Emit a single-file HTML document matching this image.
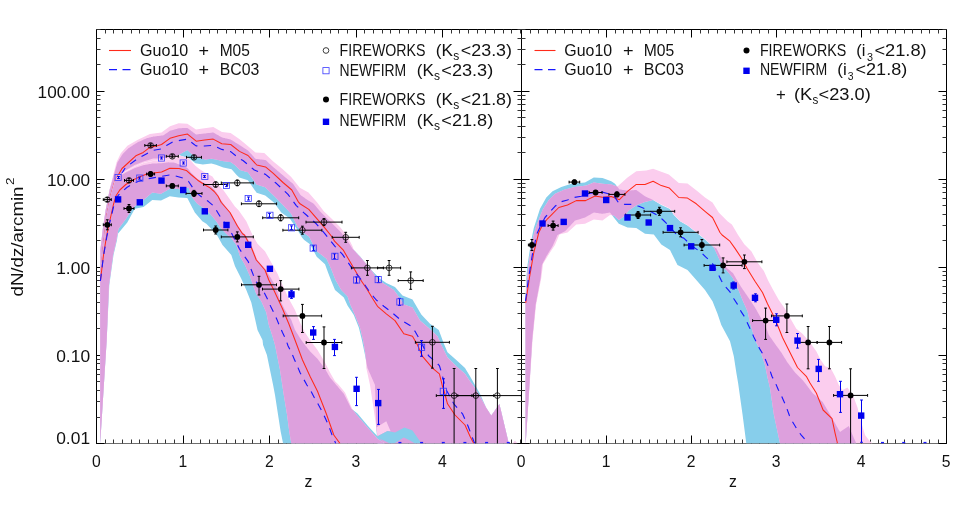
<!DOCTYPE html>
<html><head><meta charset="utf-8"><title>dN/dz</title>
<style>html,body{margin:0;padding:0;background:#fff;}svg{display:block;will-change:transform;}text{font-family:"Liberation Sans",sans-serif;fill:#111;}</style>
</head><body>
<svg width="975" height="505" viewBox="0 0 975 505">
<rect width="975" height="505" fill="#fff"/>
<defs>
<clipPath id="cl"><rect x="96.50" y="29.50" width="425.00" height="414.00"/></clipPath>
<clipPath id="cr"><rect x="521.50" y="29.50" width="425.00" height="414.00"/></clipPath>
</defs>
<g shape-rendering="auto"><path d="M96.50 444.00V29.50H946.50V444.00" fill="none" stroke="#000" stroke-width="1"/><line x1="96.50" y1="443.50" x2="946.50" y2="443.50" stroke="#6e6e6e" stroke-width="1"/><line x1="521.50" y1="29.50" x2="521.50" y2="443.50" stroke="#000" stroke-width="1.0"/><line x1="96.50" y1="443.50" x2="96.50" y2="435.50" stroke="#000" stroke-width="1.0"/><line x1="96.50" y1="29.50" x2="96.50" y2="37.50" stroke="#000" stroke-width="1.0"/><line x1="105.50" y1="443.50" x2="105.50" y2="439.50" stroke="#333" stroke-width="1.0"/><line x1="105.50" y1="29.50" x2="105.50" y2="33.50" stroke="#333" stroke-width="1.0"/><line x1="113.50" y1="443.50" x2="113.50" y2="439.50" stroke="#333" stroke-width="1.0"/><line x1="113.50" y1="29.50" x2="113.50" y2="33.50" stroke="#333" stroke-width="1.0"/><line x1="122.50" y1="443.50" x2="122.50" y2="439.50" stroke="#333" stroke-width="1.0"/><line x1="122.50" y1="29.50" x2="122.50" y2="33.50" stroke="#333" stroke-width="1.0"/><line x1="131.50" y1="443.50" x2="131.50" y2="439.50" stroke="#333" stroke-width="1.0"/><line x1="131.50" y1="29.50" x2="131.50" y2="33.50" stroke="#333" stroke-width="1.0"/><line x1="139.50" y1="443.50" x2="139.50" y2="439.50" stroke="#333" stroke-width="1.0"/><line x1="139.50" y1="29.50" x2="139.50" y2="33.50" stroke="#333" stroke-width="1.0"/><line x1="148.50" y1="443.50" x2="148.50" y2="439.50" stroke="#333" stroke-width="1.0"/><line x1="148.50" y1="29.50" x2="148.50" y2="33.50" stroke="#333" stroke-width="1.0"/><line x1="157.50" y1="443.50" x2="157.50" y2="439.50" stroke="#333" stroke-width="1.0"/><line x1="157.50" y1="29.50" x2="157.50" y2="33.50" stroke="#333" stroke-width="1.0"/><line x1="165.50" y1="443.50" x2="165.50" y2="439.50" stroke="#333" stroke-width="1.0"/><line x1="165.50" y1="29.50" x2="165.50" y2="33.50" stroke="#333" stroke-width="1.0"/><line x1="174.50" y1="443.50" x2="174.50" y2="439.50" stroke="#333" stroke-width="1.0"/><line x1="174.50" y1="29.50" x2="174.50" y2="33.50" stroke="#333" stroke-width="1.0"/><line x1="183.50" y1="443.50" x2="183.50" y2="435.50" stroke="#000" stroke-width="1.0"/><line x1="183.50" y1="29.50" x2="183.50" y2="37.50" stroke="#000" stroke-width="1.0"/><line x1="191.50" y1="443.50" x2="191.50" y2="439.50" stroke="#333" stroke-width="1.0"/><line x1="191.50" y1="29.50" x2="191.50" y2="33.50" stroke="#333" stroke-width="1.0"/><line x1="200.50" y1="443.50" x2="200.50" y2="439.50" stroke="#333" stroke-width="1.0"/><line x1="200.50" y1="29.50" x2="200.50" y2="33.50" stroke="#333" stroke-width="1.0"/><line x1="209.50" y1="443.50" x2="209.50" y2="439.50" stroke="#333" stroke-width="1.0"/><line x1="209.50" y1="29.50" x2="209.50" y2="33.50" stroke="#333" stroke-width="1.0"/><line x1="217.50" y1="443.50" x2="217.50" y2="439.50" stroke="#333" stroke-width="1.0"/><line x1="217.50" y1="29.50" x2="217.50" y2="33.50" stroke="#333" stroke-width="1.0"/><line x1="226.50" y1="443.50" x2="226.50" y2="439.50" stroke="#333" stroke-width="1.0"/><line x1="226.50" y1="29.50" x2="226.50" y2="33.50" stroke="#333" stroke-width="1.0"/><line x1="235.50" y1="443.50" x2="235.50" y2="439.50" stroke="#333" stroke-width="1.0"/><line x1="235.50" y1="29.50" x2="235.50" y2="33.50" stroke="#333" stroke-width="1.0"/><line x1="243.50" y1="443.50" x2="243.50" y2="439.50" stroke="#333" stroke-width="1.0"/><line x1="243.50" y1="29.50" x2="243.50" y2="33.50" stroke="#333" stroke-width="1.0"/><line x1="252.50" y1="443.50" x2="252.50" y2="439.50" stroke="#333" stroke-width="1.0"/><line x1="252.50" y1="29.50" x2="252.50" y2="33.50" stroke="#333" stroke-width="1.0"/><line x1="260.50" y1="443.50" x2="260.50" y2="439.50" stroke="#333" stroke-width="1.0"/><line x1="260.50" y1="29.50" x2="260.50" y2="33.50" stroke="#333" stroke-width="1.0"/><line x1="269.50" y1="443.50" x2="269.50" y2="435.50" stroke="#000" stroke-width="1.0"/><line x1="269.50" y1="29.50" x2="269.50" y2="37.50" stroke="#000" stroke-width="1.0"/><line x1="278.50" y1="443.50" x2="278.50" y2="439.50" stroke="#333" stroke-width="1.0"/><line x1="278.50" y1="29.50" x2="278.50" y2="33.50" stroke="#333" stroke-width="1.0"/><line x1="286.50" y1="443.50" x2="286.50" y2="439.50" stroke="#333" stroke-width="1.0"/><line x1="286.50" y1="29.50" x2="286.50" y2="33.50" stroke="#333" stroke-width="1.0"/><line x1="295.50" y1="443.50" x2="295.50" y2="439.50" stroke="#333" stroke-width="1.0"/><line x1="295.50" y1="29.50" x2="295.50" y2="33.50" stroke="#333" stroke-width="1.0"/><line x1="304.50" y1="443.50" x2="304.50" y2="439.50" stroke="#333" stroke-width="1.0"/><line x1="304.50" y1="29.50" x2="304.50" y2="33.50" stroke="#333" stroke-width="1.0"/><line x1="312.50" y1="443.50" x2="312.50" y2="439.50" stroke="#333" stroke-width="1.0"/><line x1="312.50" y1="29.50" x2="312.50" y2="33.50" stroke="#333" stroke-width="1.0"/><line x1="321.50" y1="443.50" x2="321.50" y2="439.50" stroke="#333" stroke-width="1.0"/><line x1="321.50" y1="29.50" x2="321.50" y2="33.50" stroke="#333" stroke-width="1.0"/><line x1="330.50" y1="443.50" x2="330.50" y2="439.50" stroke="#333" stroke-width="1.0"/><line x1="330.50" y1="29.50" x2="330.50" y2="33.50" stroke="#333" stroke-width="1.0"/><line x1="338.50" y1="443.50" x2="338.50" y2="439.50" stroke="#333" stroke-width="1.0"/><line x1="338.50" y1="29.50" x2="338.50" y2="33.50" stroke="#333" stroke-width="1.0"/><line x1="347.50" y1="443.50" x2="347.50" y2="439.50" stroke="#333" stroke-width="1.0"/><line x1="347.50" y1="29.50" x2="347.50" y2="33.50" stroke="#333" stroke-width="1.0"/><line x1="356.50" y1="443.50" x2="356.50" y2="435.50" stroke="#000" stroke-width="1.0"/><line x1="356.50" y1="29.50" x2="356.50" y2="37.50" stroke="#000" stroke-width="1.0"/><line x1="364.50" y1="443.50" x2="364.50" y2="439.50" stroke="#333" stroke-width="1.0"/><line x1="364.50" y1="29.50" x2="364.50" y2="33.50" stroke="#333" stroke-width="1.0"/><line x1="373.50" y1="443.50" x2="373.50" y2="439.50" stroke="#333" stroke-width="1.0"/><line x1="373.50" y1="29.50" x2="373.50" y2="33.50" stroke="#333" stroke-width="1.0"/><line x1="382.50" y1="443.50" x2="382.50" y2="439.50" stroke="#333" stroke-width="1.0"/><line x1="382.50" y1="29.50" x2="382.50" y2="33.50" stroke="#333" stroke-width="1.0"/><line x1="390.50" y1="443.50" x2="390.50" y2="439.50" stroke="#333" stroke-width="1.0"/><line x1="390.50" y1="29.50" x2="390.50" y2="33.50" stroke="#333" stroke-width="1.0"/><line x1="399.50" y1="443.50" x2="399.50" y2="439.50" stroke="#333" stroke-width="1.0"/><line x1="399.50" y1="29.50" x2="399.50" y2="33.50" stroke="#333" stroke-width="1.0"/><line x1="408.50" y1="443.50" x2="408.50" y2="439.50" stroke="#333" stroke-width="1.0"/><line x1="408.50" y1="29.50" x2="408.50" y2="33.50" stroke="#333" stroke-width="1.0"/><line x1="416.50" y1="443.50" x2="416.50" y2="439.50" stroke="#333" stroke-width="1.0"/><line x1="416.50" y1="29.50" x2="416.50" y2="33.50" stroke="#333" stroke-width="1.0"/><line x1="425.50" y1="443.50" x2="425.50" y2="439.50" stroke="#333" stroke-width="1.0"/><line x1="425.50" y1="29.50" x2="425.50" y2="33.50" stroke="#333" stroke-width="1.0"/><line x1="434.50" y1="443.50" x2="434.50" y2="439.50" stroke="#333" stroke-width="1.0"/><line x1="434.50" y1="29.50" x2="434.50" y2="33.50" stroke="#333" stroke-width="1.0"/><line x1="442.50" y1="443.50" x2="442.50" y2="435.50" stroke="#000" stroke-width="1.0"/><line x1="442.50" y1="29.50" x2="442.50" y2="37.50" stroke="#000" stroke-width="1.0"/><line x1="451.50" y1="443.50" x2="451.50" y2="439.50" stroke="#333" stroke-width="1.0"/><line x1="451.50" y1="29.50" x2="451.50" y2="33.50" stroke="#333" stroke-width="1.0"/><line x1="459.50" y1="443.50" x2="459.50" y2="439.50" stroke="#333" stroke-width="1.0"/><line x1="459.50" y1="29.50" x2="459.50" y2="33.50" stroke="#333" stroke-width="1.0"/><line x1="468.50" y1="443.50" x2="468.50" y2="439.50" stroke="#333" stroke-width="1.0"/><line x1="468.50" y1="29.50" x2="468.50" y2="33.50" stroke="#333" stroke-width="1.0"/><line x1="477.50" y1="443.50" x2="477.50" y2="439.50" stroke="#333" stroke-width="1.0"/><line x1="477.50" y1="29.50" x2="477.50" y2="33.50" stroke="#333" stroke-width="1.0"/><line x1="485.50" y1="443.50" x2="485.50" y2="439.50" stroke="#333" stroke-width="1.0"/><line x1="485.50" y1="29.50" x2="485.50" y2="33.50" stroke="#333" stroke-width="1.0"/><line x1="494.50" y1="443.50" x2="494.50" y2="439.50" stroke="#333" stroke-width="1.0"/><line x1="494.50" y1="29.50" x2="494.50" y2="33.50" stroke="#333" stroke-width="1.0"/><line x1="503.50" y1="443.50" x2="503.50" y2="439.50" stroke="#333" stroke-width="1.0"/><line x1="503.50" y1="29.50" x2="503.50" y2="33.50" stroke="#333" stroke-width="1.0"/><line x1="511.50" y1="443.50" x2="511.50" y2="439.50" stroke="#333" stroke-width="1.0"/><line x1="511.50" y1="29.50" x2="511.50" y2="33.50" stroke="#333" stroke-width="1.0"/><line x1="520.50" y1="443.50" x2="520.50" y2="439.50" stroke="#333" stroke-width="1.0"/><line x1="520.50" y1="29.50" x2="520.50" y2="33.50" stroke="#333" stroke-width="1.0"/><line x1="521.50" y1="443.50" x2="521.50" y2="435.50" stroke="#000" stroke-width="1.0"/><line x1="521.50" y1="29.50" x2="521.50" y2="37.50" stroke="#000" stroke-width="1.0"/><line x1="530.50" y1="443.50" x2="530.50" y2="439.50" stroke="#333" stroke-width="1.0"/><line x1="530.50" y1="29.50" x2="530.50" y2="33.50" stroke="#333" stroke-width="1.0"/><line x1="538.50" y1="443.50" x2="538.50" y2="439.50" stroke="#333" stroke-width="1.0"/><line x1="538.50" y1="29.50" x2="538.50" y2="33.50" stroke="#333" stroke-width="1.0"/><line x1="547.50" y1="443.50" x2="547.50" y2="439.50" stroke="#333" stroke-width="1.0"/><line x1="547.50" y1="29.50" x2="547.50" y2="33.50" stroke="#333" stroke-width="1.0"/><line x1="555.50" y1="443.50" x2="555.50" y2="439.50" stroke="#333" stroke-width="1.0"/><line x1="555.50" y1="29.50" x2="555.50" y2="33.50" stroke="#333" stroke-width="1.0"/><line x1="564.50" y1="443.50" x2="564.50" y2="439.50" stroke="#333" stroke-width="1.0"/><line x1="564.50" y1="29.50" x2="564.50" y2="33.50" stroke="#333" stroke-width="1.0"/><line x1="572.50" y1="443.50" x2="572.50" y2="439.50" stroke="#333" stroke-width="1.0"/><line x1="572.50" y1="29.50" x2="572.50" y2="33.50" stroke="#333" stroke-width="1.0"/><line x1="581.50" y1="443.50" x2="581.50" y2="439.50" stroke="#333" stroke-width="1.0"/><line x1="581.50" y1="29.50" x2="581.50" y2="33.50" stroke="#333" stroke-width="1.0"/><line x1="589.50" y1="443.50" x2="589.50" y2="439.50" stroke="#333" stroke-width="1.0"/><line x1="589.50" y1="29.50" x2="589.50" y2="33.50" stroke="#333" stroke-width="1.0"/><line x1="598.50" y1="443.50" x2="598.50" y2="439.50" stroke="#333" stroke-width="1.0"/><line x1="598.50" y1="29.50" x2="598.50" y2="33.50" stroke="#333" stroke-width="1.0"/><line x1="606.50" y1="443.50" x2="606.50" y2="435.50" stroke="#000" stroke-width="1.0"/><line x1="606.50" y1="29.50" x2="606.50" y2="37.50" stroke="#000" stroke-width="1.0"/><line x1="615.50" y1="443.50" x2="615.50" y2="439.50" stroke="#333" stroke-width="1.0"/><line x1="615.50" y1="29.50" x2="615.50" y2="33.50" stroke="#333" stroke-width="1.0"/><line x1="623.50" y1="443.50" x2="623.50" y2="439.50" stroke="#333" stroke-width="1.0"/><line x1="623.50" y1="29.50" x2="623.50" y2="33.50" stroke="#333" stroke-width="1.0"/><line x1="632.50" y1="443.50" x2="632.50" y2="439.50" stroke="#333" stroke-width="1.0"/><line x1="632.50" y1="29.50" x2="632.50" y2="33.50" stroke="#333" stroke-width="1.0"/><line x1="640.50" y1="443.50" x2="640.50" y2="439.50" stroke="#333" stroke-width="1.0"/><line x1="640.50" y1="29.50" x2="640.50" y2="33.50" stroke="#333" stroke-width="1.0"/><line x1="649.50" y1="443.50" x2="649.50" y2="439.50" stroke="#333" stroke-width="1.0"/><line x1="649.50" y1="29.50" x2="649.50" y2="33.50" stroke="#333" stroke-width="1.0"/><line x1="657.50" y1="443.50" x2="657.50" y2="439.50" stroke="#333" stroke-width="1.0"/><line x1="657.50" y1="29.50" x2="657.50" y2="33.50" stroke="#333" stroke-width="1.0"/><line x1="666.50" y1="443.50" x2="666.50" y2="439.50" stroke="#333" stroke-width="1.0"/><line x1="666.50" y1="29.50" x2="666.50" y2="33.50" stroke="#333" stroke-width="1.0"/><line x1="674.50" y1="443.50" x2="674.50" y2="439.50" stroke="#333" stroke-width="1.0"/><line x1="674.50" y1="29.50" x2="674.50" y2="33.50" stroke="#333" stroke-width="1.0"/><line x1="683.50" y1="443.50" x2="683.50" y2="439.50" stroke="#333" stroke-width="1.0"/><line x1="683.50" y1="29.50" x2="683.50" y2="33.50" stroke="#333" stroke-width="1.0"/><line x1="691.50" y1="443.50" x2="691.50" y2="435.50" stroke="#000" stroke-width="1.0"/><line x1="691.50" y1="29.50" x2="691.50" y2="37.50" stroke="#000" stroke-width="1.0"/><line x1="700.50" y1="443.50" x2="700.50" y2="439.50" stroke="#333" stroke-width="1.0"/><line x1="700.50" y1="29.50" x2="700.50" y2="33.50" stroke="#333" stroke-width="1.0"/><line x1="708.50" y1="443.50" x2="708.50" y2="439.50" stroke="#333" stroke-width="1.0"/><line x1="708.50" y1="29.50" x2="708.50" y2="33.50" stroke="#333" stroke-width="1.0"/><line x1="717.50" y1="443.50" x2="717.50" y2="439.50" stroke="#333" stroke-width="1.0"/><line x1="717.50" y1="29.50" x2="717.50" y2="33.50" stroke="#333" stroke-width="1.0"/><line x1="725.50" y1="443.50" x2="725.50" y2="439.50" stroke="#333" stroke-width="1.0"/><line x1="725.50" y1="29.50" x2="725.50" y2="33.50" stroke="#333" stroke-width="1.0"/><line x1="734.50" y1="443.50" x2="734.50" y2="439.50" stroke="#333" stroke-width="1.0"/><line x1="734.50" y1="29.50" x2="734.50" y2="33.50" stroke="#333" stroke-width="1.0"/><line x1="742.50" y1="443.50" x2="742.50" y2="439.50" stroke="#333" stroke-width="1.0"/><line x1="742.50" y1="29.50" x2="742.50" y2="33.50" stroke="#333" stroke-width="1.0"/><line x1="751.50" y1="443.50" x2="751.50" y2="439.50" stroke="#333" stroke-width="1.0"/><line x1="751.50" y1="29.50" x2="751.50" y2="33.50" stroke="#333" stroke-width="1.0"/><line x1="759.50" y1="443.50" x2="759.50" y2="439.50" stroke="#333" stroke-width="1.0"/><line x1="759.50" y1="29.50" x2="759.50" y2="33.50" stroke="#333" stroke-width="1.0"/><line x1="768.50" y1="443.50" x2="768.50" y2="439.50" stroke="#333" stroke-width="1.0"/><line x1="768.50" y1="29.50" x2="768.50" y2="33.50" stroke="#333" stroke-width="1.0"/><line x1="776.50" y1="443.50" x2="776.50" y2="435.50" stroke="#000" stroke-width="1.0"/><line x1="776.50" y1="29.50" x2="776.50" y2="37.50" stroke="#000" stroke-width="1.0"/><line x1="785.50" y1="443.50" x2="785.50" y2="439.50" stroke="#333" stroke-width="1.0"/><line x1="785.50" y1="29.50" x2="785.50" y2="33.50" stroke="#333" stroke-width="1.0"/><line x1="793.50" y1="443.50" x2="793.50" y2="439.50" stroke="#333" stroke-width="1.0"/><line x1="793.50" y1="29.50" x2="793.50" y2="33.50" stroke="#333" stroke-width="1.0"/><line x1="802.50" y1="443.50" x2="802.50" y2="439.50" stroke="#333" stroke-width="1.0"/><line x1="802.50" y1="29.50" x2="802.50" y2="33.50" stroke="#333" stroke-width="1.0"/><line x1="810.50" y1="443.50" x2="810.50" y2="439.50" stroke="#333" stroke-width="1.0"/><line x1="810.50" y1="29.50" x2="810.50" y2="33.50" stroke="#333" stroke-width="1.0"/><line x1="819.50" y1="443.50" x2="819.50" y2="439.50" stroke="#333" stroke-width="1.0"/><line x1="819.50" y1="29.50" x2="819.50" y2="33.50" stroke="#333" stroke-width="1.0"/><line x1="827.50" y1="443.50" x2="827.50" y2="439.50" stroke="#333" stroke-width="1.0"/><line x1="827.50" y1="29.50" x2="827.50" y2="33.50" stroke="#333" stroke-width="1.0"/><line x1="836.50" y1="443.50" x2="836.50" y2="439.50" stroke="#333" stroke-width="1.0"/><line x1="836.50" y1="29.50" x2="836.50" y2="33.50" stroke="#333" stroke-width="1.0"/><line x1="844.50" y1="443.50" x2="844.50" y2="439.50" stroke="#333" stroke-width="1.0"/><line x1="844.50" y1="29.50" x2="844.50" y2="33.50" stroke="#333" stroke-width="1.0"/><line x1="853.50" y1="443.50" x2="853.50" y2="439.50" stroke="#333" stroke-width="1.0"/><line x1="853.50" y1="29.50" x2="853.50" y2="33.50" stroke="#333" stroke-width="1.0"/><line x1="861.50" y1="443.50" x2="861.50" y2="435.50" stroke="#000" stroke-width="1.0"/><line x1="861.50" y1="29.50" x2="861.50" y2="37.50" stroke="#000" stroke-width="1.0"/><line x1="870.50" y1="443.50" x2="870.50" y2="439.50" stroke="#333" stroke-width="1.0"/><line x1="870.50" y1="29.50" x2="870.50" y2="33.50" stroke="#333" stroke-width="1.0"/><line x1="878.50" y1="443.50" x2="878.50" y2="439.50" stroke="#333" stroke-width="1.0"/><line x1="878.50" y1="29.50" x2="878.50" y2="33.50" stroke="#333" stroke-width="1.0"/><line x1="887.50" y1="443.50" x2="887.50" y2="439.50" stroke="#333" stroke-width="1.0"/><line x1="887.50" y1="29.50" x2="887.50" y2="33.50" stroke="#333" stroke-width="1.0"/><line x1="895.50" y1="443.50" x2="895.50" y2="439.50" stroke="#333" stroke-width="1.0"/><line x1="895.50" y1="29.50" x2="895.50" y2="33.50" stroke="#333" stroke-width="1.0"/><line x1="904.50" y1="443.50" x2="904.50" y2="439.50" stroke="#333" stroke-width="1.0"/><line x1="904.50" y1="29.50" x2="904.50" y2="33.50" stroke="#333" stroke-width="1.0"/><line x1="912.50" y1="443.50" x2="912.50" y2="439.50" stroke="#333" stroke-width="1.0"/><line x1="912.50" y1="29.50" x2="912.50" y2="33.50" stroke="#333" stroke-width="1.0"/><line x1="921.50" y1="443.50" x2="921.50" y2="439.50" stroke="#333" stroke-width="1.0"/><line x1="921.50" y1="29.50" x2="921.50" y2="33.50" stroke="#333" stroke-width="1.0"/><line x1="929.50" y1="443.50" x2="929.50" y2="439.50" stroke="#333" stroke-width="1.0"/><line x1="929.50" y1="29.50" x2="929.50" y2="33.50" stroke="#333" stroke-width="1.0"/><line x1="938.50" y1="443.50" x2="938.50" y2="439.50" stroke="#333" stroke-width="1.0"/><line x1="938.50" y1="29.50" x2="938.50" y2="33.50" stroke="#333" stroke-width="1.0"/><line x1="946.50" y1="443.50" x2="946.50" y2="435.50" stroke="#000" stroke-width="1.0"/><line x1="946.50" y1="29.50" x2="946.50" y2="37.50" stroke="#000" stroke-width="1.0"/><line x1="96.50" y1="443.50" x2="104.50" y2="443.50" stroke="#000" stroke-width="1.0"/><line x1="946.50" y1="443.50" x2="938.50" y2="443.50" stroke="#000" stroke-width="1.0"/><line x1="513.50" y1="443.50" x2="529.50" y2="443.50" stroke="#000" stroke-width="1.0"/><line x1="96.50" y1="417.50" x2="100.50" y2="417.50" stroke="#333" stroke-width="1.0"/><line x1="946.50" y1="417.50" x2="942.50" y2="417.50" stroke="#333" stroke-width="1.0"/><line x1="517.50" y1="417.50" x2="525.50" y2="417.50" stroke="#333" stroke-width="1.0"/><line x1="96.50" y1="401.50" x2="100.50" y2="401.50" stroke="#333" stroke-width="1.0"/><line x1="946.50" y1="401.50" x2="942.50" y2="401.50" stroke="#333" stroke-width="1.0"/><line x1="517.50" y1="401.50" x2="525.50" y2="401.50" stroke="#333" stroke-width="1.0"/><line x1="96.50" y1="390.50" x2="100.50" y2="390.50" stroke="#333" stroke-width="1.0"/><line x1="946.50" y1="390.50" x2="942.50" y2="390.50" stroke="#333" stroke-width="1.0"/><line x1="517.50" y1="390.50" x2="525.50" y2="390.50" stroke="#333" stroke-width="1.0"/><line x1="96.50" y1="381.50" x2="100.50" y2="381.50" stroke="#333" stroke-width="1.0"/><line x1="946.50" y1="381.50" x2="942.50" y2="381.50" stroke="#333" stroke-width="1.0"/><line x1="517.50" y1="381.50" x2="525.50" y2="381.50" stroke="#333" stroke-width="1.0"/><line x1="96.50" y1="374.50" x2="100.50" y2="374.50" stroke="#333" stroke-width="1.0"/><line x1="946.50" y1="374.50" x2="942.50" y2="374.50" stroke="#333" stroke-width="1.0"/><line x1="517.50" y1="374.50" x2="525.50" y2="374.50" stroke="#333" stroke-width="1.0"/><line x1="96.50" y1="369.50" x2="100.50" y2="369.50" stroke="#333" stroke-width="1.0"/><line x1="946.50" y1="369.50" x2="942.50" y2="369.50" stroke="#333" stroke-width="1.0"/><line x1="517.50" y1="369.50" x2="525.50" y2="369.50" stroke="#333" stroke-width="1.0"/><line x1="96.50" y1="363.50" x2="100.50" y2="363.50" stroke="#333" stroke-width="1.0"/><line x1="946.50" y1="363.50" x2="942.50" y2="363.50" stroke="#333" stroke-width="1.0"/><line x1="517.50" y1="363.50" x2="525.50" y2="363.50" stroke="#333" stroke-width="1.0"/><line x1="96.50" y1="359.50" x2="100.50" y2="359.50" stroke="#333" stroke-width="1.0"/><line x1="946.50" y1="359.50" x2="942.50" y2="359.50" stroke="#333" stroke-width="1.0"/><line x1="517.50" y1="359.50" x2="525.50" y2="359.50" stroke="#333" stroke-width="1.0"/><line x1="96.50" y1="355.50" x2="104.50" y2="355.50" stroke="#000" stroke-width="1.0"/><line x1="946.50" y1="355.50" x2="938.50" y2="355.50" stroke="#000" stroke-width="1.0"/><line x1="513.50" y1="355.50" x2="529.50" y2="355.50" stroke="#000" stroke-width="1.0"/><line x1="96.50" y1="328.50" x2="100.50" y2="328.50" stroke="#333" stroke-width="1.0"/><line x1="946.50" y1="328.50" x2="942.50" y2="328.50" stroke="#333" stroke-width="1.0"/><line x1="517.50" y1="328.50" x2="525.50" y2="328.50" stroke="#333" stroke-width="1.0"/><line x1="96.50" y1="313.50" x2="100.50" y2="313.50" stroke="#333" stroke-width="1.0"/><line x1="946.50" y1="313.50" x2="942.50" y2="313.50" stroke="#333" stroke-width="1.0"/><line x1="517.50" y1="313.50" x2="525.50" y2="313.50" stroke="#333" stroke-width="1.0"/><line x1="96.50" y1="302.50" x2="100.50" y2="302.50" stroke="#333" stroke-width="1.0"/><line x1="946.50" y1="302.50" x2="942.50" y2="302.50" stroke="#333" stroke-width="1.0"/><line x1="517.50" y1="302.50" x2="525.50" y2="302.50" stroke="#333" stroke-width="1.0"/><line x1="96.50" y1="293.50" x2="100.50" y2="293.50" stroke="#333" stroke-width="1.0"/><line x1="946.50" y1="293.50" x2="942.50" y2="293.50" stroke="#333" stroke-width="1.0"/><line x1="517.50" y1="293.50" x2="525.50" y2="293.50" stroke="#333" stroke-width="1.0"/><line x1="96.50" y1="286.50" x2="100.50" y2="286.50" stroke="#333" stroke-width="1.0"/><line x1="946.50" y1="286.50" x2="942.50" y2="286.50" stroke="#333" stroke-width="1.0"/><line x1="517.50" y1="286.50" x2="525.50" y2="286.50" stroke="#333" stroke-width="1.0"/><line x1="96.50" y1="280.50" x2="100.50" y2="280.50" stroke="#333" stroke-width="1.0"/><line x1="946.50" y1="280.50" x2="942.50" y2="280.50" stroke="#333" stroke-width="1.0"/><line x1="517.50" y1="280.50" x2="525.50" y2="280.50" stroke="#333" stroke-width="1.0"/><line x1="96.50" y1="275.50" x2="100.50" y2="275.50" stroke="#333" stroke-width="1.0"/><line x1="946.50" y1="275.50" x2="942.50" y2="275.50" stroke="#333" stroke-width="1.0"/><line x1="517.50" y1="275.50" x2="525.50" y2="275.50" stroke="#333" stroke-width="1.0"/><line x1="96.50" y1="271.50" x2="100.50" y2="271.50" stroke="#333" stroke-width="1.0"/><line x1="946.50" y1="271.50" x2="942.50" y2="271.50" stroke="#333" stroke-width="1.0"/><line x1="517.50" y1="271.50" x2="525.50" y2="271.50" stroke="#333" stroke-width="1.0"/><line x1="96.50" y1="267.50" x2="104.50" y2="267.50" stroke="#000" stroke-width="1.0"/><line x1="946.50" y1="267.50" x2="938.50" y2="267.50" stroke="#000" stroke-width="1.0"/><line x1="513.50" y1="267.50" x2="529.50" y2="267.50" stroke="#000" stroke-width="1.0"/><line x1="96.50" y1="240.50" x2="100.50" y2="240.50" stroke="#333" stroke-width="1.0"/><line x1="946.50" y1="240.50" x2="942.50" y2="240.50" stroke="#333" stroke-width="1.0"/><line x1="517.50" y1="240.50" x2="525.50" y2="240.50" stroke="#333" stroke-width="1.0"/><line x1="96.50" y1="225.50" x2="100.50" y2="225.50" stroke="#333" stroke-width="1.0"/><line x1="946.50" y1="225.50" x2="942.50" y2="225.50" stroke="#333" stroke-width="1.0"/><line x1="517.50" y1="225.50" x2="525.50" y2="225.50" stroke="#333" stroke-width="1.0"/><line x1="96.50" y1="214.50" x2="100.50" y2="214.50" stroke="#333" stroke-width="1.0"/><line x1="946.50" y1="214.50" x2="942.50" y2="214.50" stroke="#333" stroke-width="1.0"/><line x1="517.50" y1="214.50" x2="525.50" y2="214.50" stroke="#333" stroke-width="1.0"/><line x1="96.50" y1="205.50" x2="100.50" y2="205.50" stroke="#333" stroke-width="1.0"/><line x1="946.50" y1="205.50" x2="942.50" y2="205.50" stroke="#333" stroke-width="1.0"/><line x1="517.50" y1="205.50" x2="525.50" y2="205.50" stroke="#333" stroke-width="1.0"/><line x1="96.50" y1="198.50" x2="100.50" y2="198.50" stroke="#333" stroke-width="1.0"/><line x1="946.50" y1="198.50" x2="942.50" y2="198.50" stroke="#333" stroke-width="1.0"/><line x1="517.50" y1="198.50" x2="525.50" y2="198.50" stroke="#333" stroke-width="1.0"/><line x1="96.50" y1="192.50" x2="100.50" y2="192.50" stroke="#333" stroke-width="1.0"/><line x1="946.50" y1="192.50" x2="942.50" y2="192.50" stroke="#333" stroke-width="1.0"/><line x1="517.50" y1="192.50" x2="525.50" y2="192.50" stroke="#333" stroke-width="1.0"/><line x1="96.50" y1="187.50" x2="100.50" y2="187.50" stroke="#333" stroke-width="1.0"/><line x1="946.50" y1="187.50" x2="942.50" y2="187.50" stroke="#333" stroke-width="1.0"/><line x1="517.50" y1="187.50" x2="525.50" y2="187.50" stroke="#333" stroke-width="1.0"/><line x1="96.50" y1="183.50" x2="100.50" y2="183.50" stroke="#333" stroke-width="1.0"/><line x1="946.50" y1="183.50" x2="942.50" y2="183.50" stroke="#333" stroke-width="1.0"/><line x1="517.50" y1="183.50" x2="525.50" y2="183.50" stroke="#333" stroke-width="1.0"/><line x1="96.50" y1="179.50" x2="104.50" y2="179.50" stroke="#000" stroke-width="1.0"/><line x1="946.50" y1="179.50" x2="938.50" y2="179.50" stroke="#000" stroke-width="1.0"/><line x1="513.50" y1="179.50" x2="529.50" y2="179.50" stroke="#000" stroke-width="1.0"/><line x1="96.50" y1="152.50" x2="100.50" y2="152.50" stroke="#333" stroke-width="1.0"/><line x1="946.50" y1="152.50" x2="942.50" y2="152.50" stroke="#333" stroke-width="1.0"/><line x1="517.50" y1="152.50" x2="525.50" y2="152.50" stroke="#333" stroke-width="1.0"/><line x1="96.50" y1="137.50" x2="100.50" y2="137.50" stroke="#333" stroke-width="1.0"/><line x1="946.50" y1="137.50" x2="942.50" y2="137.50" stroke="#333" stroke-width="1.0"/><line x1="517.50" y1="137.50" x2="525.50" y2="137.50" stroke="#333" stroke-width="1.0"/><line x1="96.50" y1="126.50" x2="100.50" y2="126.50" stroke="#333" stroke-width="1.0"/><line x1="946.50" y1="126.50" x2="942.50" y2="126.50" stroke="#333" stroke-width="1.0"/><line x1="517.50" y1="126.50" x2="525.50" y2="126.50" stroke="#333" stroke-width="1.0"/><line x1="96.50" y1="117.50" x2="100.50" y2="117.50" stroke="#333" stroke-width="1.0"/><line x1="946.50" y1="117.50" x2="942.50" y2="117.50" stroke="#333" stroke-width="1.0"/><line x1="517.50" y1="117.50" x2="525.50" y2="117.50" stroke="#333" stroke-width="1.0"/><line x1="96.50" y1="110.50" x2="100.50" y2="110.50" stroke="#333" stroke-width="1.0"/><line x1="946.50" y1="110.50" x2="942.50" y2="110.50" stroke="#333" stroke-width="1.0"/><line x1="517.50" y1="110.50" x2="525.50" y2="110.50" stroke="#333" stroke-width="1.0"/><line x1="96.50" y1="104.50" x2="100.50" y2="104.50" stroke="#333" stroke-width="1.0"/><line x1="946.50" y1="104.50" x2="942.50" y2="104.50" stroke="#333" stroke-width="1.0"/><line x1="517.50" y1="104.50" x2="525.50" y2="104.50" stroke="#333" stroke-width="1.0"/><line x1="96.50" y1="99.50" x2="100.50" y2="99.50" stroke="#333" stroke-width="1.0"/><line x1="946.50" y1="99.50" x2="942.50" y2="99.50" stroke="#333" stroke-width="1.0"/><line x1="517.50" y1="99.50" x2="525.50" y2="99.50" stroke="#333" stroke-width="1.0"/><line x1="96.50" y1="95.50" x2="100.50" y2="95.50" stroke="#333" stroke-width="1.0"/><line x1="946.50" y1="95.50" x2="942.50" y2="95.50" stroke="#333" stroke-width="1.0"/><line x1="517.50" y1="95.50" x2="525.50" y2="95.50" stroke="#333" stroke-width="1.0"/><line x1="96.50" y1="91.50" x2="104.50" y2="91.50" stroke="#000" stroke-width="1.0"/><line x1="946.50" y1="91.50" x2="938.50" y2="91.50" stroke="#000" stroke-width="1.0"/><line x1="513.50" y1="91.50" x2="529.50" y2="91.50" stroke="#000" stroke-width="1.0"/><line x1="96.50" y1="64.50" x2="100.50" y2="64.50" stroke="#333" stroke-width="1.0"/><line x1="946.50" y1="64.50" x2="942.50" y2="64.50" stroke="#333" stroke-width="1.0"/><line x1="517.50" y1="64.50" x2="525.50" y2="64.50" stroke="#333" stroke-width="1.0"/><line x1="96.50" y1="49.50" x2="100.50" y2="49.50" stroke="#333" stroke-width="1.0"/><line x1="946.50" y1="49.50" x2="942.50" y2="49.50" stroke="#333" stroke-width="1.0"/><line x1="517.50" y1="49.50" x2="525.50" y2="49.50" stroke="#333" stroke-width="1.0"/><line x1="96.50" y1="38.50" x2="100.50" y2="38.50" stroke="#333" stroke-width="1.0"/><line x1="946.50" y1="38.50" x2="942.50" y2="38.50" stroke="#333" stroke-width="1.0"/><line x1="517.50" y1="38.50" x2="525.50" y2="38.50" stroke="#333" stroke-width="1.0"/><line x1="96.50" y1="29.50" x2="100.50" y2="29.50" stroke="#333" stroke-width="1.0"/><line x1="946.50" y1="29.50" x2="942.50" y2="29.50" stroke="#333" stroke-width="1.0"/><line x1="517.50" y1="29.50" x2="525.50" y2="29.50" stroke="#333" stroke-width="1.0"/></g>
<g clip-path="url(#cl)">
<polygon points="100.2,302.0 100.4,250.0 102.8,229.2 105.8,209.4 109.8,189.6 114.0,174.5 117.5,162.3 122.4,154.4 128.3,148.3 137.4,142.4 146.6,138.3 153.2,136.6 163.2,135.4 170.0,130.8 178.7,128.3 187.3,127.9 196.0,134.5 204.6,133.5 213.3,132.5 222.0,137.5 230.6,139.5 239.3,144.9 248.0,150.5 255.5,158.8 265.5,160.0 273.0,166.9 285.5,177.5 293.0,183.8 300.5,195.0 307.5,200.0 313.8,203.8 320.0,211.3 328.8,220.0 340.0,231.3 346.3,238.8 352.5,248.8 353.8,250.0 360.0,256.3 365.0,262.5 372.5,271.3 380.0,278.8 386.3,283.1 395.0,286.9 402.5,295.5 412.5,299.4 421.3,314.4 430.0,323.8 438.8,330.0 443.8,343.5 447.5,352.2 456.3,360.0 465.0,368.1 470.0,376.3 475.0,385.0 480.0,393.8 486.3,408.0 491.3,415.6 499.4,404.0 508.8,443.5 508.8,443.5 377.5,443.5 376.3,427.5 375.0,385.0 367.5,368.0 365.0,355.0 361.9,340.0 358.8,327.5 353.8,315.0 347.5,305.5 343.8,297.5 335.0,290.0 331.5,281.5 328.3,273.3 325.0,264.2 316.7,256.7 310.0,244.2 304.2,240.0 302.0,237.5 297.5,230.0 290.0,218.8 281.3,212.5 273.9,202.6 265.2,195.6 256.6,192.8 247.9,180.2 239.3,177.6 236.6,175.0 231.6,169.2 223.3,167.5 216.0,164.8 211.4,163.6 202.8,164.5 195.4,163.3 190.5,159.6 186.8,156.4 185.5,157.2 178.8,154.9 174.5,156.2 168.0,157.5 159.1,158.3 152.9,158.6 143.7,161.4 134.5,165.1 125.2,170.6 121.0,174.0 116.0,189.0 110.0,214.0 104.0,300.0 100.2,443.5" fill="#87ceeb"/>
<polygon points="100.2,300.0 100.3,250.0 102.6,229.2 105.6,209.4 109.5,189.6 113.5,173.8 116.6,162.0 120.8,153.3 127.4,145.8 137.4,140.0 149.9,134.1 161.5,132.5 170.0,126.3 178.7,123.3 187.3,123.7 196.0,129.5 204.6,128.3 213.3,127.1 222.0,132.0 230.6,132.9 239.3,139.1 243.0,141.9 255.5,152.5 264.3,153.1 273.0,161.3 282.5,169.0 291.2,177.0 299.8,187.7 308.5,192.5 317.2,202.5 323.8,211.3 332.5,219.4 340.0,226.9 347.5,236.3 352.5,246.3 353.8,250.0 365.0,262.5 372.5,271.9 377.5,279.4 385.0,284.4 393.8,290.0 397.5,295.0 403.8,304.4 412.5,307.5 420.0,320.6 428.8,328.1 437.5,336.3 441.3,345.0 447.5,357.5 456.3,366.3 465.0,373.8 470.0,381.3 475.0,388.1 481.3,398.8 486.3,408.0 491.3,415.6 499.4,404.0 508.8,443.5 508.8,443.5 377.6,443.5 377.5,436.3 373.8,410.0 370.0,385.0 366.3,368.0 365.6,355.0 363.1,340.0 360.0,327.5 355.0,315.0 350.5,305.0 347.5,296.3 341.3,290.0 335.5,280.0 331.0,268.5 326.5,258.8 317.2,251.5 313.3,245.0 309.2,236.7 303.3,232.5 297.5,226.7 291.2,213.8 282.5,204.5 273.9,195.8 265.2,187.3 256.6,184.5 247.9,172.3 239.9,170.0 234.9,165.0 230.6,162.1 222.4,161.1 216.0,159.5 211.4,158.7 205.2,159.6 196.0,157.0 191.7,154.1 187.4,150.1 178.8,154.7 176.0,157.8 168.0,159.8 159.0,160.4 152.9,160.8 143.7,162.8 134.5,166.4 125.2,171.4 122.2,172.8 116.0,190.0 110.0,215.0 104.0,300.0 100.2,443.5" fill="#fbcdee"/>
<polygon points="100.2,302.0 100.3,276.0 100.4,250.0 100.7,247.4 101.2,243.1 101.7,238.7 102.2,234.4 102.6,230.9 102.7,230.1 102.8,229.2 103.2,226.6 103.7,223.3 104.0,221.3 104.2,220.0 104.7,216.7 105.2,213.4 105.6,210.7 105.7,210.1 105.8,209.4 106.2,207.4 106.7,204.9 107.2,202.5 107.7,200.0 108.2,197.5 108.7,195.0 109.2,192.6 109.5,191.1 109.7,190.1 109.8,189.6 110.0,188.9 110.2,188.2 110.7,186.4 111.2,184.6 111.7,182.8 112.2,181.0 112.7,179.2 113.2,177.4 113.5,176.3 113.7,175.6 114.0,174.5 114.2,173.8 114.7,172.1 115.2,170.3 115.7,168.6 116.0,167.5 116.2,166.8 116.6,165.4 116.7,165.1 117.2,163.3 117.5,162.3 117.7,162.0 118.2,161.2 118.7,160.4 119.2,159.6 119.7,158.8 120.2,157.9 120.7,157.1 120.8,157.0 121.0,156.7 121.2,156.3 121.7,155.5 122.2,154.7 122.4,154.4 122.7,154.1 123.2,153.6 123.7,153.1 124.2,152.5 124.7,152.0 125.2,151.5 125.7,151.0 126.2,150.5 126.7,150.0 127.2,149.4 127.4,149.2 127.7,148.9 128.2,148.4 128.3,148.3 128.7,148.0 129.2,147.7 129.7,147.4 130.2,147.1 130.7,146.7 131.2,146.4 131.7,146.1 132.2,145.8 132.7,145.4 133.2,145.1 133.7,144.8 134.2,144.5 134.5,144.3 134.7,144.2 135.2,143.8 135.7,143.5 136.2,143.2 136.7,142.9 137.2,142.5 137.4,142.4 137.7,142.3 138.2,142.0 138.7,141.8 139.2,141.6 139.7,141.4 140.2,141.2 140.7,140.9 141.2,140.7 141.7,140.5 142.2,140.3 142.7,140.0 143.2,139.8 143.7,139.6 144.2,139.4 144.7,139.1 145.2,138.9 145.7,138.7 146.2,138.5 146.6,138.3 146.7,138.3 147.2,138.1 147.7,138.0 148.2,137.9 148.7,137.8 149.2,137.6 149.7,137.5 149.9,137.4 150.2,137.4 150.7,137.2 151.2,137.1 151.7,137.0 152.2,136.9 152.7,136.7 152.9,136.7 153.2,136.6 153.7,136.5 154.2,136.5 154.7,136.4 155.2,136.4 155.7,136.3 156.2,136.2 156.7,136.2 157.2,136.1 157.7,136.1 158.2,136.0 158.7,135.9 159.0,135.9 159.1,135.9 159.2,135.9 159.7,135.8 160.2,135.8 160.7,135.7 161.2,135.6 161.5,135.6 161.7,135.6 162.2,135.5 162.7,135.5 163.2,135.4 163.7,135.1 164.2,134.7 164.7,134.4 165.2,134.0 165.7,133.7 166.2,133.4 166.7,133.0 167.2,132.7 167.7,132.4 168.0,132.2 168.2,132.0 168.7,131.7 169.2,131.3 169.7,131.0 170.0,130.8 170.2,130.7 170.7,130.6 171.2,130.5 171.7,130.3 172.2,130.2 172.7,130.0 173.2,129.9 173.7,129.7 174.2,129.6 174.5,129.5 174.7,129.4 175.2,129.3 175.7,129.2 176.0,129.1 176.2,129.0 176.7,128.9 177.2,128.7 177.7,128.6 178.2,128.4 178.7,128.3 178.8,128.3 179.2,128.3 179.7,128.3 180.2,128.2 180.7,128.2 181.2,128.2 181.7,128.2 182.2,128.1 182.7,128.1 183.2,128.1 183.7,128.1 184.2,128.0 184.7,128.0 185.2,128.0 185.5,128.0 185.7,128.0 186.2,128.0 186.7,127.9 186.8,127.9 187.2,127.9 187.3,127.9 187.4,128.0 187.7,128.2 188.2,128.6 188.7,129.0 189.2,129.3 189.7,129.7 190.2,130.1 190.5,130.3 190.7,130.5 191.2,130.9 191.7,131.2 192.2,131.6 192.7,132.0 193.2,132.4 193.7,132.8 194.2,133.1 194.7,133.5 195.2,133.9 195.4,134.0 195.7,134.3 196.0,134.5 196.2,134.5 196.7,134.4 197.2,134.4 197.7,134.3 198.2,134.2 198.7,134.2 199.2,134.1 199.7,134.1 200.2,134.0 200.7,134.0 201.2,133.9 201.7,133.8 202.2,133.8 202.7,133.7 202.8,133.7 203.2,133.7 203.7,133.6 204.2,133.5 204.6,133.5 204.7,133.5 205.2,133.4 205.7,133.4 206.2,133.3 206.7,133.3 207.2,133.2 207.7,133.1 208.2,133.1 208.7,133.0 209.2,133.0 209.7,132.9 210.2,132.9 210.7,132.8 211.2,132.7 211.4,132.7 211.7,132.7 212.2,132.6 212.7,132.6 213.2,132.5 213.3,132.5 213.7,132.7 214.2,133.0 214.7,133.3 215.2,133.6 215.7,133.9 216.0,134.1 216.2,134.2 216.7,134.5 217.2,134.7 217.7,135.0 218.2,135.3 218.7,135.6 219.2,135.9 219.7,136.2 220.2,136.5 220.7,136.8 221.2,137.0 221.7,137.3 222.0,137.5 222.2,137.5 222.4,137.6 222.7,137.7 223.2,137.8 223.3,137.8 223.7,137.9 224.2,138.0 224.7,138.1 225.2,138.2 225.7,138.4 226.2,138.5 226.7,138.6 227.2,138.7 227.7,138.8 228.2,138.9 228.7,139.1 229.2,139.2 229.7,139.3 230.2,139.4 230.6,139.5 230.7,139.6 231.2,139.9 231.6,140.1 231.7,140.2 232.2,140.5 232.7,140.8 233.2,141.1 233.7,141.4 234.2,141.7 234.7,142.0 234.9,142.2 235.2,142.4 235.7,142.7 236.2,143.0 236.6,143.2 236.7,143.3 237.2,143.6 237.7,143.9 238.2,144.2 238.7,144.5 239.2,144.8 239.3,144.9 239.7,145.2 239.9,145.3 240.2,145.5 240.7,145.8 241.2,146.1 241.7,146.4 242.2,146.8 242.7,147.1 243.0,147.3 243.2,147.4 243.7,147.7 244.2,148.1 244.7,148.4 245.2,148.7 245.7,149.0 246.2,149.3 246.7,149.7 247.2,150.0 247.7,150.3 247.9,150.4 248.0,150.5 248.2,150.7 248.7,151.3 249.2,151.8 249.7,152.4 250.2,152.9 250.7,153.5 251.2,154.0 251.7,154.6 252.2,155.1 252.7,155.7 253.2,156.3 253.7,156.8 254.2,157.4 254.7,157.9 255.2,158.5 255.5,158.8 255.7,158.8 256.2,158.9 256.6,158.9 256.7,158.9 257.2,159.0 257.7,159.1 258.2,159.1 258.7,159.2 259.2,159.2 259.7,159.3 260.2,159.4 260.7,159.4 261.2,159.5 261.7,159.5 262.2,159.6 262.7,159.7 263.2,159.7 263.7,159.8 264.2,159.8 264.3,159.9 264.7,159.9 265.2,160.0 265.5,160.0 265.7,160.2 266.2,160.6 266.7,161.1 267.2,161.6 267.7,162.0 268.2,162.5 268.7,162.9 269.2,163.4 269.7,163.9 270.2,164.3 270.7,164.8 271.2,165.2 271.7,165.7 272.2,166.2 272.7,166.6 273.0,166.9 273.2,167.1 273.7,167.5 273.9,167.7 274.2,167.9 274.7,168.3 275.2,168.8 275.7,169.2 276.2,169.6 276.7,170.0 277.2,170.5 277.7,170.9 278.2,171.3 278.7,171.7 279.2,172.2 279.7,172.6 280.2,173.0 280.7,173.4 281.2,173.9 281.3,173.9 281.7,174.3 282.2,174.7 282.5,175.0 282.7,175.1 283.2,175.5 283.7,176.0 284.2,176.4 284.7,176.8 285.2,177.2 285.5,177.5 285.7,177.7 286.2,178.1 286.7,178.5 287.2,178.9 287.7,179.3 288.2,179.8 288.7,180.2 289.2,180.6 289.7,181.0 290.0,181.3 290.2,181.4 290.7,181.9 291.2,182.3 291.7,182.7 292.2,183.1 292.7,183.5 293.0,183.8 293.2,184.1 293.7,184.8 294.2,185.6 294.7,186.3 295.2,187.1 295.7,187.8 296.2,188.6 296.7,189.3 297.2,190.1 297.5,190.5 297.7,190.8 298.2,191.6 298.7,192.3 299.2,193.1 299.7,193.8 299.8,194.0 300.2,194.6 300.5,195.0 300.7,195.1 301.2,195.5 301.7,195.9 302.0,196.1 302.2,196.2 302.7,196.6 303.2,196.9 303.3,197.0 303.7,197.3 304.2,197.6 304.7,198.0 305.2,198.4 305.7,198.7 306.2,199.1 306.7,199.4 307.2,199.8 307.5,200.0 307.7,200.1 308.2,200.4 308.5,200.6 308.7,200.7 309.2,201.0 309.7,201.3 310.0,201.5 310.2,201.6 310.7,201.9 311.2,202.2 311.7,202.5 312.2,202.8 312.7,203.1 313.2,203.4 313.3,203.5 313.7,203.7 313.8,203.8 314.2,204.3 314.7,204.9 315.2,205.5 315.7,206.1 316.2,206.7 316.7,207.3 317.2,207.9 317.7,208.5 318.2,209.1 318.7,209.7 319.2,210.3 319.7,210.9 320.0,211.3 320.2,211.5 320.7,212.0 321.2,212.5 321.7,213.0 322.2,213.5 322.7,214.0 323.2,214.5 323.7,215.0 323.8,215.1 324.2,215.5 324.7,215.9 325.0,216.2 325.2,216.4 325.7,216.9 326.2,217.4 326.5,217.7 326.7,217.9 327.2,218.4 327.7,218.9 328.2,219.4 328.3,219.5 328.7,219.9 328.8,220.0 329.2,220.4 329.7,220.9 330.2,221.4 330.7,221.9 331.0,222.2 331.2,222.4 331.5,222.7 331.7,222.9 332.2,223.4 332.5,223.7 332.7,223.9 333.2,224.4 333.7,224.9 334.2,225.4 334.7,226.0 335.0,226.3 335.2,226.5 335.5,226.8 335.7,227.0 336.2,227.5 336.7,228.0 337.2,228.5 337.7,229.0 338.2,229.5 338.7,230.0 339.2,230.5 339.7,231.0 340.0,231.3 340.2,231.5 340.7,232.1 341.2,232.7 341.3,232.8 341.7,233.3 342.2,233.9 342.7,234.5 343.2,235.1 343.7,235.7 343.8,235.8 344.2,236.3 344.7,236.9 345.2,237.5 345.7,238.1 346.2,238.7 346.3,238.8 346.7,239.4 347.2,240.3 347.5,240.7 347.7,241.1 348.2,241.9 348.7,242.7 349.2,243.5 349.7,244.3 350.2,245.1 350.5,245.6 350.7,245.9 351.2,246.7 351.7,247.5 352.2,248.3 352.5,248.8 352.7,249.0 353.2,249.4 353.7,249.9 353.8,250.0 354.2,250.4 354.7,251.0 355.0,251.3 355.2,251.6 355.7,252.1 356.2,252.7 356.7,253.2 357.2,253.8 357.7,254.4 358.2,254.9 358.7,255.5 358.8,255.6 359.2,256.0 359.7,256.6 360.0,256.9 360.2,257.1 360.7,257.7 361.2,258.3 361.7,258.8 361.9,259.0 362.2,259.4 362.7,259.9 363.1,260.4 363.2,260.5 363.7,261.0 364.2,261.6 364.7,262.2 365.0,262.5 365.2,262.8 365.6,263.3 365.7,263.4 366.2,264.0 366.3,264.1 366.7,264.6 367.2,265.3 367.5,265.6 367.7,265.9 368.2,266.5 368.7,267.1 369.2,267.8 369.7,268.4 370.0,268.8 370.2,269.0 370.7,269.6 371.2,270.3 371.7,270.9 372.2,271.5 372.5,271.9 372.7,272.2 373.2,272.9 373.7,273.7 373.8,273.9 374.2,274.4 374.7,275.2 375.0,275.6 375.2,275.9 375.7,276.7 376.2,277.4 376.3,277.6 376.7,278.2 377.2,278.9 377.5,279.4 377.6,279.5 377.7,279.5 378.2,279.9 378.7,280.2 379.2,280.5 379.7,280.9 380.0,281.1 380.2,281.2 380.7,281.5 381.2,281.9 381.7,282.2 382.2,282.5 382.7,282.9 383.2,283.2 383.7,283.5 384.2,283.9 384.7,284.2 385.0,284.4 385.2,284.5 385.7,284.8 386.2,285.2 386.3,285.2 386.7,285.5 387.2,285.8 387.7,286.1 388.2,286.4 388.7,286.8 389.2,287.1 389.7,287.4 390.2,287.7 390.7,288.0 391.2,288.3 391.7,288.7 392.2,289.0 392.7,289.3 393.2,289.6 393.7,289.9 393.8,290.0 394.2,290.5 394.7,291.2 395.0,291.6 395.2,291.9 395.7,292.6 396.2,293.2 396.7,293.9 397.2,294.6 397.5,295.0 397.7,295.3 398.2,296.0 398.7,296.8 399.2,297.5 399.7,298.3 400.2,299.0 400.7,299.8 401.2,300.5 401.7,301.3 402.2,302.0 402.5,302.5 402.7,302.8 403.2,303.5 403.7,304.3 403.8,304.4 404.2,304.5 404.7,304.7 405.2,304.9 405.7,305.1 406.2,305.3 406.7,305.4 407.2,305.6 407.7,305.8 408.2,306.0 408.7,306.1 409.2,306.3 409.7,306.5 410.2,306.7 410.7,306.9 411.2,307.0 411.7,307.2 412.2,307.4 412.5,307.5 412.7,307.8 413.2,308.7 413.7,309.6 414.2,310.5 414.7,311.3 415.2,312.2 415.7,313.1 416.2,314.0 416.7,314.8 417.2,315.7 417.7,316.6 418.2,317.5 418.7,318.3 419.2,319.2 419.7,320.1 420.0,320.6 420.2,320.8 420.7,321.2 421.2,321.6 421.3,321.7 421.7,322.0 422.2,322.5 422.7,322.9 423.2,323.3 423.7,323.8 424.2,324.2 424.7,324.6 425.2,325.0 425.7,325.5 426.2,325.9 426.7,326.3 427.2,326.7 427.7,327.2 428.2,327.6 428.7,328.0 428.8,328.1 429.2,328.5 429.7,328.9 430.0,329.2 430.2,329.4 430.7,329.9 431.2,330.4 431.7,330.8 432.2,331.3 432.7,331.8 433.2,332.2 433.7,332.7 434.2,333.2 434.7,333.7 435.2,334.1 435.7,334.6 436.2,335.1 436.7,335.5 437.2,336.0 437.5,336.3 437.7,336.8 438.2,337.9 438.7,339.0 438.8,339.3 439.2,340.2 439.7,341.3 440.2,342.5 440.7,343.6 441.2,344.8 441.3,345.0 441.7,345.8 442.2,346.8 442.7,347.8 443.2,348.8 443.7,349.8 443.8,350.0 444.2,350.8 444.7,351.9 445.2,352.9 445.7,353.9 446.2,354.9 446.7,355.9 447.2,356.9 447.5,357.5 447.7,357.7 448.2,358.2 448.7,358.7 449.2,359.2 449.7,359.7 450.2,360.2 450.7,360.7 451.2,361.2 451.7,361.7 452.2,362.2 452.7,362.7 453.2,363.2 453.7,363.7 454.2,364.2 454.7,364.7 455.2,365.2 455.7,365.7 456.2,366.2 456.3,366.3 456.7,366.6 457.2,367.1 457.7,367.5 458.2,367.9 458.7,368.4 459.2,368.8 459.7,369.2 460.2,369.7 460.7,370.1 461.2,370.5 461.7,371.0 462.2,371.4 462.7,371.8 463.2,372.2 463.7,372.7 464.2,373.1 464.7,373.5 465.0,373.8 465.2,374.1 465.7,374.9 466.2,375.6 466.7,376.4 467.2,377.1 467.7,377.9 468.2,378.6 468.7,379.4 469.2,380.1 469.7,380.9 470.0,381.3 470.2,381.6 470.7,382.3 471.2,382.9 471.7,383.6 472.2,384.3 472.7,385.0 473.2,385.7 473.7,386.3 474.2,387.0 474.7,387.7 475.0,388.1 475.2,388.4 475.7,389.3 476.2,390.1 476.7,391.0 477.2,391.8 477.7,392.7 478.2,393.5 478.7,394.4 479.2,395.2 479.7,396.1 480.0,396.6 480.2,396.9 480.7,397.8 481.2,398.6 481.3,398.8 481.7,399.5 482.2,400.5 482.7,401.4 483.2,402.3 483.7,403.2 484.2,404.1 484.7,405.1 485.2,406.0 485.7,406.9 486.2,407.8 486.3,408.0 486.7,408.6 487.2,409.4 487.7,410.1 488.2,410.9 488.7,411.6 489.2,412.4 489.7,413.2 490.2,413.9 490.7,414.7 491.2,415.4 491.3,415.6 491.7,415.0 492.2,414.3 492.7,413.6 493.2,412.9 493.7,412.2 494.2,411.4 494.7,410.7 495.2,410.0 495.7,409.3 496.2,408.6 496.7,407.9 497.2,407.2 497.7,406.4 498.2,405.7 498.7,405.0 499.2,404.3 499.4,404.0 499.7,405.3 500.2,407.4 500.7,409.5 501.2,411.6 501.7,413.7 502.2,415.8 502.7,417.9 503.2,420.0 503.7,422.1 504.2,424.2 504.7,426.3 505.2,428.4 505.7,430.5 506.2,432.6 506.7,434.7 507.2,436.8 507.7,438.9 508.2,441.0 508.7,443.1 508.8,443.5 508.8,443.5 508.7,443.5 508.2,443.5 507.7,443.5 507.2,443.5 506.7,443.5 506.2,443.5 505.7,443.5 505.2,443.5 504.7,443.5 504.2,443.5 503.7,443.5 503.2,443.5 502.7,443.5 502.2,443.5 501.7,443.5 501.2,443.5 500.7,443.5 500.2,443.5 499.7,443.5 499.4,443.5 499.2,443.5 498.7,443.5 498.2,443.5 497.7,443.5 497.2,443.5 496.7,443.5 496.2,443.5 495.7,443.5 495.2,443.5 494.7,443.5 494.2,443.5 493.7,443.5 493.2,443.5 492.7,443.5 492.2,443.5 491.7,443.5 491.3,443.5 491.2,443.5 490.7,443.5 490.2,443.5 489.7,443.5 489.2,443.5 488.7,443.5 488.2,443.5 487.7,443.5 487.2,443.5 486.7,443.5 486.3,443.5 486.2,443.5 485.7,443.5 485.2,443.5 484.7,443.5 484.2,443.5 483.7,443.5 483.2,443.5 482.7,443.5 482.2,443.5 481.7,443.5 481.3,443.5 481.2,443.5 480.7,443.5 480.2,443.5 480.0,443.5 479.7,443.5 479.2,443.5 478.7,443.5 478.2,443.5 477.7,443.5 477.2,443.5 476.7,443.5 476.2,443.5 475.7,443.5 475.2,443.5 475.0,443.5 474.7,443.5 474.2,443.5 473.7,443.5 473.2,443.5 472.7,443.5 472.2,443.5 471.7,443.5 471.2,443.5 470.7,443.5 470.2,443.5 470.0,443.5 469.7,443.5 469.2,443.5 468.7,443.5 468.2,443.5 467.7,443.5 467.2,443.5 466.7,443.5 466.2,443.5 465.7,443.5 465.2,443.5 465.0,443.5 464.7,443.5 464.2,443.5 463.7,443.5 463.2,443.5 462.7,443.5 462.2,443.5 461.7,443.5 461.2,443.5 460.7,443.5 460.2,443.5 459.7,443.5 459.2,443.5 458.7,443.5 458.2,443.5 457.7,443.5 457.2,443.5 456.7,443.5 456.3,443.5 456.2,443.5 455.7,443.5 455.2,443.5 454.7,443.5 454.2,443.5 453.7,443.5 453.2,443.5 452.7,443.5 452.2,443.5 451.7,443.5 451.2,443.5 450.7,443.5 450.2,443.5 449.7,443.5 449.2,443.5 448.7,443.5 448.2,443.5 447.7,443.5 447.5,443.5 447.2,443.5 446.7,443.5 446.2,443.5 445.7,443.5 445.2,443.5 444.7,443.5 444.2,443.5 443.8,443.5 443.7,443.5 443.2,443.5 442.7,443.5 442.2,443.5 441.7,443.5 441.3,443.5 441.2,443.5 440.7,443.5 440.2,443.5 439.7,443.5 439.2,443.5 438.8,443.5 438.7,443.5 438.2,443.5 437.7,443.5 437.5,443.5 437.2,443.5 436.7,443.5 436.2,443.5 435.7,443.5 435.2,443.5 434.7,443.5 434.2,443.5 433.7,443.5 433.2,443.5 432.7,443.5 432.2,443.5 431.7,443.5 431.2,443.5 430.7,443.5 430.2,443.5 430.0,443.5 429.7,443.5 429.2,443.5 428.8,443.5 428.7,443.5 428.2,443.5 427.7,443.5 427.2,443.5 426.7,443.5 426.2,443.5 425.7,443.5 425.2,443.5 424.7,443.5 424.2,443.5 423.7,443.5 423.2,443.5 422.7,443.5 422.2,443.5 421.7,443.5 421.3,443.5 421.2,443.5 420.7,443.5 420.2,443.5 420.0,443.5 419.7,443.5 419.2,443.5 418.7,443.5 418.2,443.5 417.7,443.5 417.2,443.5 416.7,443.5 416.2,443.5 415.7,443.5 415.2,443.5 414.7,443.5 414.2,443.5 413.7,443.5 413.2,443.5 412.7,443.5 412.5,443.5 412.2,443.5 411.7,443.5 411.2,443.5 410.7,443.5 410.2,443.5 409.7,443.5 409.2,443.5 408.7,443.5 408.2,443.5 407.7,443.5 407.2,443.5 406.7,443.5 406.2,443.5 405.7,443.5 405.2,443.5 404.7,443.5 404.2,443.5 403.8,443.5 403.7,443.5 403.2,443.5 402.7,443.5 402.5,443.5 402.2,443.5 401.7,443.5 401.2,443.5 400.7,443.5 400.2,443.5 399.7,443.5 399.2,443.5 398.7,443.5 398.2,443.5 397.7,443.5 397.5,443.5 397.2,443.5 396.7,443.5 396.2,443.5 395.7,443.5 395.2,443.5 395.0,443.5 394.7,443.5 394.2,443.5 393.8,443.5 393.7,443.5 393.2,443.5 392.7,443.5 392.2,443.5 391.7,443.5 391.2,443.5 390.7,443.5 390.2,443.5 389.7,443.5 389.2,443.5 388.7,443.5 388.2,443.5 387.7,443.5 387.2,443.5 386.7,443.5 386.3,443.5 386.2,443.5 385.7,443.5 385.2,443.5 385.0,443.5 384.7,443.5 384.2,443.5 383.7,443.5 383.2,443.5 382.7,443.5 382.2,443.5 381.7,443.5 381.2,443.5 380.7,443.5 380.2,443.5 380.0,443.5 379.7,443.5 379.2,443.5 378.7,443.5 378.2,443.5 377.7,443.5 377.6,443.5 377.5,436.3 377.2,434.2 376.7,430.6 376.3,427.5 376.2,424.2 375.7,407.9 375.2,391.5 375.0,385.0 374.7,384.3 374.2,383.2 373.8,382.3 373.7,382.1 373.2,380.9 372.7,379.8 372.5,379.3 372.2,378.7 371.7,377.5 371.2,376.4 370.7,375.3 370.2,374.1 370.0,373.7 369.7,373.0 369.2,371.9 368.7,370.7 368.2,369.6 367.7,368.5 367.5,368.0 367.2,366.4 366.7,363.8 366.3,361.8 366.2,361.2 365.7,356.9 365.6,355.0 365.2,352.6 365.0,351.4 364.7,349.6 364.2,346.6 363.7,343.6 363.2,340.6 363.1,340.0 362.7,338.4 362.2,336.4 361.9,335.2 361.7,334.4 361.2,332.3 360.7,330.3 360.2,328.3 360.0,327.5 359.7,326.8 359.2,325.5 358.8,324.5 358.7,324.2 358.2,323.0 357.7,321.8 357.2,320.5 356.7,319.2 356.2,318.0 355.7,316.8 355.2,315.5 355.0,315.0 354.7,314.3 354.2,313.2 353.8,312.3 353.7,312.1 353.2,311.0 352.7,309.9 352.5,309.4 352.2,308.8 351.7,307.7 351.2,306.6 350.7,305.4 350.5,305.0 350.2,304.1 349.7,302.7 349.2,301.2 348.7,299.8 348.2,298.3 347.7,296.9 347.5,296.3 347.2,296.0 346.7,295.5 346.3,295.1 346.2,295.0 345.7,294.5 345.2,294.0 344.7,293.5 344.2,292.9 343.8,292.5 343.7,292.4 343.2,291.9 342.7,291.4 342.2,290.9 341.7,290.4 341.3,290.0 341.2,289.8 340.7,289.0 340.2,288.1 340.0,287.8 339.7,287.2 339.2,286.4 338.7,285.5 338.2,284.7 337.7,283.8 337.2,282.9 336.7,282.1 336.2,281.2 335.7,280.3 335.5,280.0 335.2,279.2 335.0,278.7 334.7,278.0 334.2,276.7 333.7,275.4 333.2,274.1 332.7,272.8 332.5,272.3 332.2,271.6 331.7,270.3 331.5,269.8 331.2,269.0 331.0,268.5 330.7,267.9 330.2,266.8 329.7,265.7 329.2,264.6 328.8,263.8 328.7,263.5 328.3,262.7 328.2,262.5 327.7,261.4 327.2,260.3 326.7,259.2 326.5,258.8 326.2,258.6 325.7,258.2 325.2,257.8 325.0,257.6 324.7,257.4 324.2,257.0 323.8,256.7 323.7,256.6 323.2,256.2 322.7,255.8 322.2,255.4 321.7,255.0 321.2,254.6 320.7,254.2 320.2,253.9 320.0,253.7 319.7,253.5 319.2,253.1 318.7,252.7 318.2,252.3 317.7,251.9 317.2,251.5 316.7,250.7 316.2,249.8 315.7,249.0 315.2,248.2 314.7,247.3 314.2,246.5 313.8,245.8 313.7,245.7 313.3,245.0 313.2,244.8 312.7,243.8 312.2,242.8 311.7,241.8 311.2,240.7 310.7,239.7 310.2,238.7 310.0,238.3 309.7,237.7 309.2,236.7 308.7,236.3 308.5,236.2 308.2,236.0 307.7,235.6 307.5,235.5 307.2,235.3 306.7,234.9 306.2,234.6 305.7,234.2 305.2,233.9 304.7,233.5 304.2,233.1 303.7,232.8 303.3,232.5 303.2,232.4 302.7,231.9 302.2,231.4 302.0,231.2 301.7,230.9 301.2,230.4 300.7,229.9 300.5,229.7 300.2,229.4 299.8,229.0 299.7,228.9 299.2,228.4 298.7,227.9 298.2,227.4 297.7,226.9 297.5,226.7 297.2,226.1 296.7,225.1 296.2,224.0 295.7,223.0 295.2,222.0 294.7,221.0 294.2,219.9 293.7,218.9 293.2,217.9 293.0,217.5 292.7,216.9 292.2,215.8 291.7,214.8 291.2,213.8 290.7,213.3 290.2,212.7 290.0,212.5 289.7,212.2 289.2,211.7 288.7,211.1 288.2,210.6 287.7,210.1 287.2,209.5 286.7,209.0 286.2,208.5 285.7,207.9 285.5,207.7 285.2,207.4 284.7,206.9 284.2,206.3 283.7,205.8 283.2,205.2 282.7,204.7 282.5,204.5 282.2,204.2 281.7,203.7 281.3,203.3 281.2,203.2 280.7,202.7 280.2,202.2 279.7,201.7 279.2,201.2 278.7,200.7 278.2,200.2 277.7,199.6 277.2,199.1 276.7,198.6 276.2,198.1 275.7,197.6 275.2,197.1 274.7,196.6 274.2,196.1 273.9,195.8 273.7,195.6 273.2,195.1 273.0,194.9 272.7,194.6 272.2,194.1 271.7,193.7 271.2,193.2 270.7,192.7 270.2,192.2 269.7,191.7 269.2,191.2 268.7,190.7 268.2,190.2 267.7,189.7 267.2,189.3 266.7,188.8 266.2,188.3 265.7,187.8 265.5,187.6 265.2,187.3 264.7,187.1 264.3,187.0 264.2,187.0 263.7,186.8 263.2,186.6 262.7,186.5 262.2,186.3 261.7,186.2 261.2,186.0 260.7,185.8 260.2,185.7 259.7,185.5 259.2,185.3 258.7,185.2 258.2,185.0 257.7,184.9 257.2,184.7 256.7,184.5 256.6,184.5 256.2,183.9 255.7,183.2 255.5,183.0 255.2,182.5 254.7,181.8 254.2,181.1 253.7,180.4 253.2,179.7 252.7,179.0 252.2,178.3 251.7,177.6 251.2,176.9 250.7,176.2 250.2,175.5 249.7,174.8 249.2,174.1 248.7,173.4 248.2,172.7 248.0,172.4 247.9,172.3 247.7,172.2 247.2,172.1 246.7,172.0 246.2,171.8 245.7,171.7 245.2,171.5 244.7,171.4 244.2,171.2 243.7,171.1 243.2,170.9 243.0,170.9 242.7,170.8 242.2,170.7 241.7,170.5 241.2,170.4 240.7,170.2 240.2,170.1 239.9,170.0 239.7,169.8 239.3,169.4 239.2,169.3 238.7,168.8 238.2,168.3 237.7,167.8 237.2,167.3 236.7,166.8 236.6,166.7 236.2,166.3 235.7,165.8 235.2,165.3 234.9,165.0 234.7,164.9 234.2,164.5 233.7,164.2 233.2,163.9 232.7,163.5 232.2,163.2 231.7,162.8 231.6,162.8 231.2,162.5 230.7,162.2 230.6,162.1 230.2,162.1 229.7,162.0 229.2,161.9 228.7,161.9 228.2,161.8 227.7,161.7 227.2,161.7 226.7,161.6 226.2,161.6 225.7,161.5 225.2,161.4 224.7,161.4 224.2,161.3 223.7,161.3 223.3,161.2 223.2,161.2 222.7,161.1 222.4,161.1 222.2,161.0 222.0,161.0 221.7,160.9 221.2,160.8 220.7,160.7 220.2,160.5 219.7,160.4 219.2,160.3 218.7,160.2 218.2,160.0 217.7,159.9 217.2,159.8 216.7,159.7 216.2,159.5 216.0,159.5 215.7,159.4 215.2,159.4 214.7,159.3 214.2,159.2 213.7,159.1 213.3,159.0 213.2,159.0 212.7,158.9 212.2,158.8 211.7,158.8 211.4,158.7 211.2,158.7 210.7,158.8 210.2,158.9 209.7,158.9 209.2,159.0 208.7,159.1 208.2,159.2 207.7,159.2 207.2,159.3 206.7,159.4 206.2,159.5 205.7,159.5 205.2,159.6 204.7,159.5 204.6,159.4 204.2,159.3 203.7,159.2 203.2,159.0 202.8,158.9 202.7,158.9 202.2,158.8 201.7,158.6 201.2,158.5 200.7,158.3 200.2,158.2 199.7,158.0 199.2,157.9 198.7,157.8 198.2,157.6 197.7,157.5 197.2,157.3 196.7,157.2 196.2,157.1 196.0,157.0 195.7,156.8 195.4,156.6 195.2,156.5 194.7,156.1 194.2,155.8 193.7,155.4 193.2,155.1 192.7,154.8 192.2,154.4 191.7,154.1 191.2,153.6 190.7,153.2 190.5,153.0 190.2,152.7 189.7,152.2 189.2,151.8 188.7,151.3 188.2,150.8 187.7,150.4 187.4,150.1 187.3,150.2 187.2,150.2 186.8,150.4 186.7,150.5 186.2,150.7 185.7,151.0 185.5,151.1 185.2,151.3 184.7,151.5 184.2,151.8 183.7,152.1 183.2,152.3 182.7,152.6 182.2,152.9 181.7,153.1 181.2,153.4 180.7,153.7 180.2,154.0 179.7,154.2 179.2,154.5 178.8,154.7 178.7,154.8 178.2,155.1 177.7,155.2 177.2,155.4 176.7,155.5 176.2,155.7 176.0,155.7 175.7,155.8 175.2,156.0 174.7,156.1 174.5,156.2 174.2,156.3 173.7,156.4 173.2,156.5 172.7,156.6 172.2,156.7 171.7,156.8 171.2,156.9 170.7,157.0 170.2,157.1 170.0,157.1 169.7,157.2 169.2,157.3 168.7,157.4 168.2,157.5 168.0,157.5 167.7,157.5 167.2,157.6 166.7,157.6 166.2,157.7 165.7,157.7 165.2,157.8 164.7,157.8 164.2,157.8 163.7,157.9 163.2,157.9 162.7,158.0 162.2,158.0 161.7,158.1 161.5,158.1 161.2,158.1 160.7,158.2 160.2,158.2 159.7,158.2 159.2,158.3 159.1,158.3 159.0,158.3 158.7,158.3 158.2,158.3 157.7,158.4 157.2,158.4 156.7,158.4 156.2,158.4 155.7,158.5 155.2,158.5 154.7,158.5 154.2,158.5 153.7,158.6 153.2,158.6 152.9,158.6 152.7,158.7 152.2,158.8 151.7,159.0 151.2,159.1 150.7,159.3 150.2,159.4 149.9,159.5 149.7,159.6 149.2,159.7 148.7,159.9 148.2,160.0 147.7,160.2 147.2,160.3 146.7,160.5 146.6,160.5 146.2,160.6 145.7,160.8 145.2,160.9 144.7,161.1 144.2,161.2 143.7,161.4 143.2,161.6 142.7,161.8 142.2,162.0 141.7,162.2 141.2,162.4 140.7,162.6 140.2,162.8 139.7,163.0 139.2,163.2 138.7,163.4 138.2,163.6 137.7,163.8 137.4,163.9 137.2,164.0 136.7,164.2 136.2,164.4 135.7,164.6 135.2,164.8 134.7,165.0 134.5,165.1 134.2,165.3 133.7,165.6 133.2,165.9 132.7,166.2 132.2,166.5 131.7,166.8 131.2,167.1 130.7,167.3 130.2,167.6 129.7,167.9 129.2,168.2 128.7,168.5 128.3,168.8 128.2,168.8 127.7,169.1 127.4,169.3 127.2,169.4 126.7,169.7 126.2,170.0 125.7,170.3 125.2,170.6 124.7,171.0 124.2,171.4 123.7,171.8 123.2,172.2 122.7,172.6 122.4,172.7 122.2,172.8 121.7,173.4 121.2,173.8 121.0,174.0 120.8,174.6 120.7,174.9 120.2,176.4 119.7,177.9 119.2,179.4 118.7,180.9 118.2,182.4 117.7,183.9 117.5,184.5 117.2,185.4 116.7,186.9 116.6,187.2 116.2,188.4 116.0,189.0 115.7,190.2 115.2,192.3 114.7,194.4 114.2,196.5 114.0,197.3 113.7,198.6 113.5,199.4 113.2,200.7 112.7,202.8 112.2,204.8 111.7,206.9 111.2,209.0 110.7,211.1 110.2,213.2 110.0,214.0 109.8,216.9 109.7,218.3 109.5,221.2 109.2,225.5 108.7,232.6 108.2,239.8 107.7,247.0 107.2,254.1 106.7,261.3 106.2,268.5 105.8,274.2 105.7,275.6 105.6,277.1 105.2,282.8 104.7,290.0 104.2,297.1 104.0,300.0 103.7,311.3 103.2,330.2 102.8,345.3 102.7,349.1 102.6,352.9 102.2,368.0 101.7,386.9 101.2,405.7 100.7,424.6 100.4,435.9 100.3,439.7 100.2,443.5" fill="#dda0dd"/>
<polygon points="376.3,427.5 386.3,421.3 390.6,431.3 387.5,431.0 377.5,436.3" fill="#fbcdee"/>
<polygon points="377.5,436.3 387.5,431.0 395.0,432.5 404.4,427.5 412.5,430.6 420.0,441.3 421.3,443.5 415.0,443.5 410.0,440.6 403.8,437.5 395.0,443.1 390.0,443.5 383.8,440.6 377.5,438.1" fill="#87ceeb"/>
<polygon points="512.5,443.5 515.0,440.5 517.5,443.5" fill="#fbcdee"/>
<polyline points="100.4,281.0 103.0,250.0 107.0,215.0 111.0,195.0 114.8,181.3 117.7,176.0 122.0,168.5 129.1,162.0 135.8,155.8 143.2,152.4 149.9,147.4 158.2,145.4 161.5,144.5 170.0,138.3 178.7,135.8 187.5,134.1 196.2,141.2 204.6,140.1 213.2,139.1 221.8,143.7 230.7,144.5 239.5,151.4 248.0,155.5 256.8,165.0 265.5,166.9 273.0,173.1 283.0,182.5 291.8,190.0 298.0,201.3 300.0,203.8 308.8,209.4 317.5,219.4 325.0,228.1 332.5,237.5 334.5,241.2 343.1,249.8 351.8,264.8 360.4,279.5 367.5,290.0 372.0,297.5 377.5,306.3 386.3,313.8 395.0,320.6 403.8,333.8 412.5,336.3 417.5,345.0 422.5,356.3 432.5,368.1 439.4,373.8 442.5,386.3 443.8,390.0 447.5,403.8 455.0,415.0 465.0,425.0 470.0,436.3 473.8,443.5" fill="none" stroke="#ff2a1a" stroke-width="1.05" stroke-linejoin="round"/>
<polyline points="100.4,281.0 104.0,245.0 108.0,215.0 112.0,197.0 117.7,180.2 125.3,167.7 137.8,158.5 147.2,153.4 153.4,150.3 161.1,149.0 166.5,145.4 172.9,141.8 180.0,140.4 187.2,139.1 196.0,145.9 204.6,146.0 213.2,145.4 221.8,149.4 230.7,151.6 239.5,158.8 243.0,160.5 254.3,170.0 265.5,174.4 276.8,183.8 288.0,194.4 296.3,205.6 305.0,213.8 316.3,223.8 325.0,233.8 335.0,246.3 342.5,254.4 352.5,268.8 362.5,281.3 370.0,292.5 376.3,300.0 383.8,306.3 391.3,311.9 400.0,319.4 411.3,326.3 415.0,331.3 420.0,340.0 425.0,350.0 428.8,356.0 435.0,361.3 439.4,365.6 441.9,373.8 445.6,388.8 448.0,393.0 453.8,403.8 462.5,413.8 468.1,426.3 473.8,441.3 475.0,443.5" fill="none" stroke="#1818ff" stroke-width="1.15" stroke-dasharray="7.3,6.4" stroke-linejoin="round"/>
<polygon points="100.2,277.5 102.8,250.0 106.8,215.0 110.8,195.5 114.6,182.0 117.6,177.0 121.0,175.0 125.2,172.9 134.5,168.2 143.7,165.1 152.9,163.5 162.2,163.2 168.3,162.3 174.5,162.7 179.4,164.5 186.8,167.6 189.2,170.1 190.5,172.0 196.7,178.3 203.3,182.5 211.6,186.6 216.6,192.4 220.8,199.9 225.7,206.6 231.3,214.0 237.5,225.0 242.5,232.5 245.6,235.0 251.9,246.3 256.9,259.4 265.6,269.4 271.3,278.8 276.3,287.5 280.0,300.0 285.0,310.0 291.3,320.0 295.0,330.0 301.3,340.0 305.0,345.0 310.0,351.3 317.5,358.8 325.0,368.8 330.0,377.5 336.3,385.0 343.8,393.8 351.3,408.8 357.5,413.5 368.0,426.0 377.5,436.3 384.0,443.5 385.0,443.5 283.1,443.5 280.6,431.3 277.5,411.3 275.0,395.0 273.1,385.0 270.0,370.0 266.9,355.0 263.1,345.0 262.5,340.0 257.5,330.0 255.0,318.8 251.3,302.5 246.3,290.0 241.3,278.8 235.0,266.3 231.3,255.0 222.5,245.0 217.5,236.0 212.5,230.0 206.3,223.8 202.3,221.3 194.8,212.5 187.3,198.1 178.5,197.5 169.8,196.3 161.0,200.6 152.3,200.0 143.5,206.9 134.8,208.8 127.3,222.5 117.9,233.8 117.0,240.0 113.5,255.0 109.3,285.0 106.7,340.0 100.2,443.5" fill="#87ceeb"/>
<polygon points="100.2,277.0 102.7,250.0 106.7,215.0 110.7,195.0 114.5,181.3 117.4,176.0 122.2,173.1 125.2,171.7 134.5,166.7 143.7,163.1 152.9,161.1 159.0,160.7 168.0,160.1 176.0,158.1 179.0,155.6 185.5,157.0 187.0,156.6 190.5,160.2 195.4,165.8 199.1,168.8 204.0,171.9 212.4,176.6 217.4,184.1 223.3,189.9 229.1,198.3 234.9,206.6 238.8,210.5 246.3,221.3 252.5,235.0 257.5,243.8 265.0,251.3 271.3,262.5 277.5,273.8 282.5,285.0 288.8,298.8 295.0,310.0 300.0,322.5 305.0,332.5 310.0,340.0 317.5,350.0 325.0,362.5 330.0,372.5 335.0,381.3 338.8,385.0 345.0,392.5 352.5,409.4 356.3,414.4 367.5,427.5 377.5,438.8 385.0,443.5 385.0,443.5 291.3,443.5 289.4,432.5 286.9,413.8 283.8,395.0 281.9,382.5 280.0,370.0 277.5,357.5 275.0,345.0 272.5,336.3 268.8,325.0 266.3,312.5 261.3,301.3 256.3,294.0 253.8,287.5 250.0,276.3 245.0,265.0 240.0,256.3 236.3,245.0 231.3,238.0 227.5,235.0 221.3,228.8 216.3,221.3 210.0,213.8 204.8,208.8 197.3,203.8 192.3,197.5 188.5,187.5 181.0,189.4 171.0,188.1 161.0,193.8 152.3,192.5 143.5,200.0 137.3,203.8 132.3,208.8 126.0,218.8 118.5,228.8 116.0,242.0 113.0,255.0 109.0,285.0 106.7,340.0 100.2,443.5" fill="#fbcdee"/>
<polygon points="100.2,277.5 100.7,272.2 101.2,266.9 101.7,261.6 102.2,256.3 102.7,251.1 102.8,250.0 103.2,246.5 103.7,242.1 104.2,237.7 104.7,233.4 105.2,229.0 105.7,224.6 106.2,220.2 106.7,215.9 106.8,215.0 107.2,213.0 107.7,210.6 108.2,208.2 108.7,205.7 109.0,204.3 109.2,203.3 109.3,202.8 109.7,200.9 110.2,198.4 110.7,196.0 110.8,195.5 111.2,194.1 111.7,192.3 112.2,190.5 112.7,188.7 113.0,187.7 113.2,187.0 113.5,185.9 113.7,185.2 114.2,183.4 114.5,182.4 114.6,182.0 114.7,181.8 115.2,181.0 115.7,180.2 116.0,179.7 116.2,179.3 116.7,178.5 117.0,178.0 117.2,177.7 117.4,177.3 117.6,177.0 117.7,176.9 117.9,176.8 118.2,176.6 118.5,176.5 118.7,176.4 119.2,176.1 119.7,175.8 120.2,175.5 120.7,175.2 121.0,175.0 121.2,174.9 121.7,174.7 122.2,174.4 122.7,174.2 123.2,173.9 123.7,173.7 124.2,173.4 124.7,173.2 125.2,172.9 125.7,172.6 126.0,172.5 126.2,172.4 126.7,172.1 127.2,171.9 127.3,171.8 127.7,171.6 128.2,171.4 128.7,171.1 129.2,170.9 129.7,170.6 130.2,170.4 130.7,170.1 131.2,169.9 131.7,169.6 132.2,169.4 132.3,169.3 132.7,169.1 133.2,168.9 133.7,168.6 134.2,168.4 134.5,168.2 134.7,168.1 134.8,168.1 135.2,168.0 135.7,167.8 136.2,167.6 136.7,167.5 137.2,167.3 137.3,167.3 137.7,167.1 138.2,167.0 138.7,166.8 139.2,166.6 139.7,166.4 140.2,166.3 140.7,166.1 141.2,165.9 141.7,165.8 142.2,165.6 142.7,165.4 143.2,165.3 143.5,165.2 143.7,165.1 144.2,165.0 144.7,164.9 145.2,164.8 145.7,164.8 146.2,164.7 146.7,164.6 147.2,164.5 147.7,164.4 148.2,164.3 148.7,164.2 149.2,164.1 149.7,164.1 150.2,164.0 150.7,163.9 151.2,163.8 151.7,163.7 152.2,163.6 152.3,163.6 152.7,163.5 152.9,163.5 153.2,163.5 153.7,163.5 154.2,163.5 154.7,163.4 155.2,163.4 155.7,163.4 156.2,163.4 156.7,163.4 157.2,163.4 157.7,163.3 158.2,163.3 158.7,163.3 159.0,163.3 159.2,163.3 159.7,163.3 160.2,163.3 160.7,163.2 161.0,163.2 161.2,163.2 161.7,163.2 162.2,163.2 162.7,163.1 163.2,163.1 163.7,163.0 164.2,162.9 164.7,162.8 165.2,162.8 165.7,162.7 166.2,162.6 166.7,162.5 167.2,162.5 167.7,162.4 168.0,162.3 168.2,162.3 168.3,162.3 168.7,162.3 169.2,162.4 169.7,162.4 169.8,162.4 170.2,162.4 170.7,162.5 171.0,162.5 171.2,162.5 171.7,162.5 172.2,162.6 172.7,162.6 173.2,162.6 173.7,162.6 174.2,162.7 174.5,162.7 174.7,162.8 175.2,163.0 175.7,163.1 176.0,163.3 176.2,163.3 176.7,163.5 177.2,163.7 177.7,163.9 178.2,164.1 178.5,164.2 178.7,164.2 179.0,164.4 179.2,164.4 179.4,164.5 179.7,164.6 180.2,164.8 180.7,165.0 181.0,165.2 181.2,165.3 181.7,165.5 182.2,165.7 182.7,165.9 183.2,166.1 183.7,166.3 184.2,166.5 184.7,166.7 185.2,166.9 185.5,167.1 185.7,167.1 186.2,167.3 186.7,167.6 186.8,167.6 187.0,167.8 187.2,168.0 187.3,168.1 187.7,168.5 188.2,169.1 188.5,169.4 188.7,169.6 189.2,170.1 189.7,170.8 190.2,171.6 190.5,172.0 190.7,172.2 191.2,172.7 191.7,173.2 192.2,173.7 192.3,173.8 192.7,174.2 193.2,174.7 193.7,175.3 194.2,175.8 194.7,176.3 194.8,176.4 195.2,176.8 195.4,177.0 195.7,177.3 196.2,177.8 196.7,178.3 197.2,178.6 197.3,178.7 197.7,178.9 198.2,179.3 198.7,179.6 199.1,179.8 199.2,179.9 199.7,180.2 200.2,180.5 200.7,180.8 201.2,181.2 201.7,181.5 202.2,181.8 202.3,181.9 202.7,182.1 203.2,182.4 203.3,182.5 203.7,182.7 204.0,182.8 204.2,182.9 204.7,183.2 204.8,183.2 205.2,183.4 205.7,183.7 206.2,183.9 206.3,184.0 206.7,184.2 207.2,184.4 207.7,184.7 208.2,184.9 208.7,185.2 209.2,185.4 209.7,185.7 210.0,185.8 210.2,185.9 210.7,186.2 211.2,186.4 211.6,186.6 211.7,186.7 212.2,187.3 212.4,187.5 212.5,187.6 212.7,187.9 213.2,188.5 213.7,189.0 214.2,189.6 214.7,190.2 215.2,190.8 215.7,191.4 216.2,191.9 216.3,192.1 216.6,192.4 216.7,192.6 217.2,193.5 217.4,193.8 217.5,194.0 217.7,194.4 218.2,195.3 218.7,196.1 219.2,197.0 219.7,197.9 220.2,198.8 220.7,199.7 220.8,199.9 221.2,200.4 221.3,200.6 221.7,201.1 222.2,201.8 222.5,202.2 222.7,202.5 223.2,203.2 223.3,203.3 223.7,203.9 224.2,204.5 224.7,205.2 225.2,205.9 225.7,206.6 226.2,207.3 226.7,207.9 227.2,208.6 227.5,209.0 227.7,209.2 228.2,209.9 228.7,210.6 229.1,211.1 229.2,211.2 229.7,211.9 230.2,212.5 230.7,213.2 231.2,213.9 231.3,214.0 231.7,214.7 232.2,215.6 232.7,216.5 233.2,217.4 233.7,218.3 234.2,219.1 234.7,220.0 234.9,220.4 235.0,220.6 235.2,220.9 235.7,221.8 236.2,222.7 236.3,222.9 236.7,223.6 237.2,224.5 237.5,225.0 237.7,225.3 238.2,226.0 238.7,226.8 238.8,227.0 239.2,227.5 239.7,228.3 240.0,228.8 240.2,229.0 240.7,229.8 241.2,230.5 241.3,230.7 241.7,231.3 242.2,232.0 242.5,232.5 242.7,232.7 243.2,233.1 243.7,233.5 244.2,233.9 244.7,234.3 245.0,234.5 245.2,234.7 245.6,235.0 245.7,235.2 246.2,236.1 246.3,236.3 246.7,237.0 247.2,237.9 247.7,238.8 248.2,239.7 248.7,240.6 249.2,241.5 249.7,242.4 250.0,242.9 250.2,243.3 250.7,244.1 251.2,245.0 251.3,245.2 251.7,245.9 251.9,246.3 252.2,247.1 252.5,247.9 252.7,248.4 253.2,249.7 253.7,251.0 253.8,251.3 254.2,252.3 254.7,253.6 255.0,254.4 255.2,254.9 255.7,256.3 256.2,257.6 256.3,257.8 256.7,258.9 256.9,259.4 257.2,259.7 257.5,260.1 257.7,260.3 258.2,260.9 258.7,261.5 259.2,262.0 259.7,262.6 260.2,263.2 260.7,263.8 261.2,264.3 261.3,264.5 261.7,264.9 262.2,265.5 262.5,265.8 262.7,266.1 263.1,266.5 263.2,266.6 263.7,267.2 264.2,267.8 264.7,268.4 265.0,268.7 265.2,268.9 265.6,269.4 265.7,269.6 266.2,270.4 266.3,270.6 266.7,271.2 266.9,271.5 267.2,272.0 267.7,272.9 268.2,273.7 268.7,274.5 268.8,274.7 269.2,275.3 269.7,276.2 270.0,276.7 270.2,277.0 270.7,277.8 271.2,278.6 271.3,278.8 271.7,279.5 272.2,280.4 272.5,280.9 272.7,281.2 273.1,281.9 273.2,282.1 273.7,283.0 274.2,283.8 274.7,284.7 275.0,285.2 275.2,285.6 275.7,286.5 276.2,287.3 276.3,287.5 276.7,288.9 277.2,290.5 277.5,291.6 277.7,292.2 278.2,293.9 278.7,295.6 279.2,297.3 279.7,299.0 280.0,300.0 280.2,300.4 280.6,301.2 280.7,301.4 281.2,302.4 281.7,303.4 281.9,303.8 282.2,304.4 282.5,305.0 282.7,305.4 283.1,306.2 283.2,306.4 283.7,307.4 283.8,307.6 284.2,308.4 284.7,309.4 285.0,310.0 285.2,310.3 285.7,311.1 286.2,311.9 286.7,312.7 286.9,313.0 287.2,313.5 287.7,314.3 288.2,315.1 288.7,315.9 288.8,316.0 289.2,316.7 289.4,317.0 289.7,317.5 290.2,318.3 290.7,319.0 291.2,319.8 291.3,320.0 291.7,321.1 292.2,322.4 292.7,323.8 293.2,325.1 293.7,326.5 294.2,327.8 294.7,329.2 295.0,330.0 295.2,330.3 295.7,331.1 296.2,331.9 296.7,332.7 297.2,333.5 297.7,334.3 298.2,335.1 298.7,335.9 299.2,336.7 299.7,337.5 300.0,337.9 300.2,338.3 300.7,339.0 301.2,339.8 301.3,340.0 301.7,340.5 302.2,341.2 302.7,341.9 303.2,342.6 303.7,343.2 304.2,343.9 304.7,344.6 305.0,345.0 305.2,345.3 305.7,345.9 306.2,346.5 306.7,347.1 307.2,347.8 307.7,348.4 308.2,349.0 308.7,349.7 309.2,350.3 309.7,350.9 310.0,351.3 310.2,351.5 310.7,352.0 311.2,352.5 311.7,353.0 312.2,353.5 312.7,354.0 313.2,354.5 313.7,355.0 314.2,355.5 314.7,356.0 315.2,356.5 315.7,357.0 316.2,357.5 316.7,358.0 317.2,358.5 317.5,358.8 317.7,359.1 318.2,359.7 318.7,360.4 319.2,361.1 319.7,361.7 320.2,362.4 320.7,363.1 321.2,363.7 321.7,364.4 322.2,365.1 322.7,365.7 323.2,366.4 323.7,367.1 324.2,367.7 324.7,368.4 325.0,368.8 325.2,369.1 325.7,370.0 326.2,370.9 326.7,371.8 327.2,372.6 327.7,373.5 328.2,374.4 328.7,375.2 329.2,376.1 329.7,377.0 330.0,377.5 330.2,377.7 330.7,378.3 331.2,378.9 331.7,379.5 332.2,380.1 332.7,380.7 333.2,381.3 333.7,381.9 334.2,382.5 334.7,383.1 335.0,383.5 335.2,383.7 335.7,384.3 336.2,384.9 336.3,385.0 336.7,385.5 337.2,386.1 337.7,386.6 338.2,387.2 338.7,387.8 338.8,387.9 339.2,388.4 339.7,389.0 340.2,389.6 340.7,390.2 341.2,390.7 341.7,391.3 342.2,391.9 342.7,392.5 343.2,393.1 343.7,393.7 343.8,393.8 344.2,394.6 344.7,395.6 345.0,396.2 345.2,396.6 345.7,397.6 346.2,398.6 346.7,399.6 347.2,400.6 347.7,401.6 348.2,402.6 348.7,403.6 349.2,404.6 349.7,405.6 350.2,406.6 350.7,407.6 351.2,408.6 351.3,408.8 351.7,409.1 352.2,409.5 352.5,409.7 352.7,409.9 353.2,410.3 353.7,411.0 354.2,411.6 354.7,412.3 355.2,413.0 355.7,413.6 356.2,414.3 356.3,414.4 356.7,414.9 357.2,415.5 357.5,415.8 357.7,416.0 358.2,416.6 358.7,417.2 359.2,417.8 359.7,418.4 360.2,419.0 360.7,419.5 361.2,420.1 361.7,420.7 362.2,421.3 362.7,421.9 363.2,422.5 363.7,423.1 364.2,423.6 364.7,424.2 365.2,424.8 365.7,425.4 366.2,426.0 366.7,426.6 367.2,427.1 367.5,427.5 367.7,427.7 368.0,428.1 368.2,428.3 368.7,428.9 369.2,429.4 369.7,430.0 370.2,430.6 370.7,431.1 371.2,431.7 371.7,432.2 372.2,432.8 372.7,433.4 373.2,433.9 373.7,434.5 374.2,435.1 374.7,435.6 375.2,436.2 375.7,436.8 376.2,437.3 376.7,437.9 377.2,438.5 377.5,438.8 377.7,438.9 378.2,439.2 378.7,439.6 379.2,439.9 379.7,440.2 380.2,440.5 380.7,440.8 381.2,441.1 381.7,441.4 382.2,441.7 382.7,442.1 383.2,442.6 383.7,443.2 384.0,443.5 384.0,443.5 383.7,443.5 383.2,443.5 382.7,443.5 382.2,443.5 381.7,443.5 381.2,443.5 380.7,443.5 380.2,443.5 379.7,443.5 379.2,443.5 378.7,443.5 378.2,443.5 377.7,443.5 377.5,443.5 377.2,443.5 376.7,443.5 376.2,443.5 375.7,443.5 375.2,443.5 374.7,443.5 374.2,443.5 373.7,443.5 373.2,443.5 372.7,443.5 372.2,443.5 371.7,443.5 371.2,443.5 370.7,443.5 370.2,443.5 369.7,443.5 369.2,443.5 368.7,443.5 368.2,443.5 368.0,443.5 367.7,443.5 367.5,443.5 367.2,443.5 366.7,443.5 366.2,443.5 365.7,443.5 365.2,443.5 364.7,443.5 364.2,443.5 363.7,443.5 363.2,443.5 362.7,443.5 362.2,443.5 361.7,443.5 361.2,443.5 360.7,443.5 360.2,443.5 359.7,443.5 359.2,443.5 358.7,443.5 358.2,443.5 357.7,443.5 357.5,443.5 357.2,443.5 356.7,443.5 356.3,443.5 356.2,443.5 355.7,443.5 355.2,443.5 354.7,443.5 354.2,443.5 353.7,443.5 353.2,443.5 352.7,443.5 352.5,443.5 352.2,443.5 351.7,443.5 351.3,443.5 351.2,443.5 350.7,443.5 350.2,443.5 349.7,443.5 349.2,443.5 348.7,443.5 348.2,443.5 347.7,443.5 347.2,443.5 346.7,443.5 346.2,443.5 345.7,443.5 345.2,443.5 345.0,443.5 344.7,443.5 344.2,443.5 343.8,443.5 343.7,443.5 343.2,443.5 342.7,443.5 342.2,443.5 341.7,443.5 341.2,443.5 340.7,443.5 340.2,443.5 339.7,443.5 339.2,443.5 338.8,443.5 338.7,443.5 338.2,443.5 337.7,443.5 337.2,443.5 336.7,443.5 336.3,443.5 336.2,443.5 335.7,443.5 335.2,443.5 335.0,443.5 334.7,443.5 334.2,443.5 333.7,443.5 333.2,443.5 332.7,443.5 332.2,443.5 331.7,443.5 331.2,443.5 330.7,443.5 330.2,443.5 330.0,443.5 329.7,443.5 329.2,443.5 328.7,443.5 328.2,443.5 327.7,443.5 327.2,443.5 326.7,443.5 326.2,443.5 325.7,443.5 325.2,443.5 325.0,443.5 324.7,443.5 324.2,443.5 323.7,443.5 323.2,443.5 322.7,443.5 322.2,443.5 321.7,443.5 321.2,443.5 320.7,443.5 320.2,443.5 319.7,443.5 319.2,443.5 318.7,443.5 318.2,443.5 317.7,443.5 317.5,443.5 317.2,443.5 316.7,443.5 316.2,443.5 315.7,443.5 315.2,443.5 314.7,443.5 314.2,443.5 313.7,443.5 313.2,443.5 312.7,443.5 312.2,443.5 311.7,443.5 311.2,443.5 310.7,443.5 310.2,443.5 310.0,443.5 309.7,443.5 309.2,443.5 308.7,443.5 308.2,443.5 307.7,443.5 307.2,443.5 306.7,443.5 306.2,443.5 305.7,443.5 305.2,443.5 305.0,443.5 304.7,443.5 304.2,443.5 303.7,443.5 303.2,443.5 302.7,443.5 302.2,443.5 301.7,443.5 301.3,443.5 301.2,443.5 300.7,443.5 300.2,443.5 300.0,443.5 299.7,443.5 299.2,443.5 298.7,443.5 298.2,443.5 297.7,443.5 297.2,443.5 296.7,443.5 296.2,443.5 295.7,443.5 295.2,443.5 295.0,443.5 294.7,443.5 294.2,443.5 293.7,443.5 293.2,443.5 292.7,443.5 292.2,443.5 291.7,443.5 291.3,443.5 291.2,442.9 290.7,440.0 290.2,437.1 289.7,434.2 289.4,432.5 289.2,431.0 288.8,428.0 288.7,427.3 288.2,423.5 287.7,419.8 287.2,416.0 286.9,413.8 286.7,412.6 286.2,409.6 285.7,406.5 285.2,403.5 285.0,402.3 284.7,400.5 284.2,397.4 283.8,395.0 283.7,394.3 283.2,391.1 283.1,390.4 282.7,387.8 282.5,386.4 282.2,384.5 281.9,382.5 281.7,381.2 281.2,377.9 280.7,374.6 280.6,373.9 280.2,371.3 280.0,370.0 279.7,368.5 279.2,366.0 278.7,363.5 278.2,361.0 277.7,358.5 277.5,357.5 277.2,356.0 276.7,353.5 276.3,351.5 276.2,351.0 275.7,348.5 275.2,346.0 275.0,345.0 274.7,344.0 274.2,342.2 273.7,340.5 273.2,338.7 273.1,338.4 272.7,337.0 272.5,336.3 272.2,335.4 271.7,333.9 271.3,332.6 271.2,332.3 270.7,330.8 270.2,329.3 270.0,328.7 269.7,327.7 269.2,326.2 268.8,325.0 268.7,324.5 268.2,322.0 267.7,319.5 267.2,317.0 266.9,315.5 266.7,314.5 266.3,312.5 266.2,312.3 265.7,311.2 265.6,310.9 265.2,310.0 265.0,309.6 264.7,308.9 264.2,307.8 263.7,306.7 263.2,305.6 263.1,305.3 262.7,304.4 262.5,304.0 262.2,303.3 261.7,302.2 261.3,301.3 261.2,301.2 260.7,300.4 260.2,299.7 259.7,299.0 259.2,298.2 258.7,297.5 258.2,296.8 257.7,296.0 257.5,295.8 257.2,295.3 256.9,294.9 256.7,294.6 256.3,294.0 256.2,293.7 255.7,292.4 255.2,291.1 255.0,290.6 254.7,289.8 254.2,288.5 253.8,287.5 253.7,287.2 253.2,285.7 252.7,284.3 252.5,283.7 252.2,282.8 251.9,281.9 251.7,281.3 251.3,280.1 251.2,279.8 250.7,278.4 250.2,276.9 250.0,276.3 249.7,275.6 249.2,274.5 248.7,273.4 248.2,272.2 247.7,271.1 247.2,270.0 246.7,268.8 246.3,267.9 246.2,267.7 245.7,266.6 245.6,266.4 245.2,265.5 245.0,265.0 244.7,264.5 244.2,263.6 243.7,262.7 243.2,261.9 242.7,261.0 242.5,260.6 242.2,260.1 241.7,259.3 241.3,258.6 241.2,258.4 240.7,257.5 240.2,256.6 240.0,256.3 239.7,255.4 239.2,253.9 238.8,252.6 238.7,252.3 238.2,250.8 237.7,249.3 237.5,248.7 237.2,247.7 236.7,246.2 236.3,245.0 236.2,244.9 235.7,244.2 235.2,243.5 235.0,243.2 234.9,243.0 234.7,242.8 234.2,242.1 233.7,241.4 233.2,240.7 232.7,240.0 232.2,239.3 231.7,238.6 231.3,238.0 231.2,237.9 230.7,237.5 230.2,237.1 229.7,236.7 229.2,236.3 229.1,236.3 228.7,235.9 228.2,235.6 227.7,235.2 227.5,235.0 227.2,234.7 226.7,234.2 226.2,233.7 225.7,233.2 225.2,232.7 224.7,232.2 224.2,231.7 223.7,231.2 223.3,230.8 223.2,230.7 222.7,230.2 222.5,230.0 222.2,229.7 221.7,229.2 221.3,228.8 221.2,228.6 220.8,228.1 220.7,227.9 220.2,227.1 219.7,226.4 219.2,225.6 218.7,224.9 218.2,224.1 217.7,223.4 217.5,223.1 217.4,222.9 217.2,222.6 216.7,221.9 216.6,221.8 216.3,221.3 216.2,221.2 215.7,220.6 215.2,220.0 214.7,219.4 214.2,218.8 213.7,218.2 213.2,217.6 212.7,217.0 212.5,216.8 212.4,216.7 212.2,216.4 211.7,215.8 211.6,215.7 211.2,215.2 210.7,214.6 210.2,214.0 210.0,213.8 209.7,213.5 209.2,213.0 208.7,212.6 208.2,212.1 207.7,211.6 207.2,211.1 206.7,210.6 206.3,210.2 206.2,210.1 205.7,209.7 205.2,209.2 204.8,208.8 204.7,208.7 204.2,208.4 204.0,208.3 203.7,208.1 203.3,207.8 203.2,207.7 202.7,207.4 202.3,207.1 202.2,207.1 201.7,206.7 201.2,206.4 200.7,206.1 200.2,205.7 199.7,205.4 199.2,205.1 199.1,205.0 198.7,204.7 198.2,204.4 197.7,204.1 197.3,203.8 197.2,203.7 196.7,203.0 196.2,202.4 195.7,201.8 195.4,201.4 195.2,201.2 194.8,200.7 194.7,200.5 194.2,199.9 193.7,199.3 193.2,198.6 192.7,198.0 192.3,197.5 192.2,197.2 191.7,195.9 191.2,194.6 190.7,193.3 190.5,192.8 190.2,192.0 189.7,190.7 189.2,189.3 188.7,188.0 188.5,187.5 188.2,187.6 187.7,187.7 187.3,187.8 187.2,187.8 187.0,187.9 186.8,187.9 186.7,188.0 186.2,188.1 185.7,188.2 185.5,188.3 185.2,188.3 184.7,188.5 184.2,188.6 183.7,188.7 183.2,188.8 182.7,189.0 182.2,189.1 181.7,189.2 181.2,189.3 181.0,189.4 180.7,189.4 180.2,189.3 179.7,189.2 179.4,189.2 179.2,189.2 179.0,189.1 178.7,189.1 178.5,189.1 178.2,189.0 177.7,189.0 177.2,188.9 176.7,188.8 176.2,188.8 176.0,188.8 175.7,188.7 175.2,188.6 174.7,188.6 174.5,188.6 174.2,188.5 173.7,188.5 173.2,188.4 172.7,188.3 172.2,188.3 171.7,188.2 171.2,188.1 171.0,188.1 170.7,188.3 170.2,188.6 169.8,188.8 169.7,188.8 169.2,189.1 168.7,189.4 168.3,189.6 168.2,189.7 168.0,189.8 167.7,190.0 167.2,190.3 166.7,190.6 166.2,190.8 165.7,191.1 165.2,191.4 164.7,191.7 164.2,192.0 163.7,192.3 163.2,192.5 162.7,192.8 162.2,193.1 161.7,193.4 161.2,193.7 161.0,193.8 160.7,193.8 160.2,193.7 159.7,193.6 159.2,193.5 159.0,193.5 158.7,193.5 158.2,193.4 157.7,193.3 157.2,193.2 156.7,193.2 156.2,193.1 155.7,193.0 155.2,192.9 154.7,192.9 154.2,192.8 153.7,192.7 153.2,192.6 152.9,192.6 152.7,192.6 152.3,192.5 152.2,192.6 151.7,193.0 151.2,193.4 150.7,193.9 150.2,194.3 149.7,194.7 149.2,195.1 148.7,195.6 148.2,196.0 147.7,196.4 147.2,196.8 146.7,197.3 146.2,197.7 145.7,198.1 145.2,198.6 144.7,199.0 144.2,199.4 143.7,199.8 143.5,200.0 143.2,200.2 142.7,200.5 142.2,200.8 141.7,201.1 141.2,201.4 140.7,201.7 140.2,202.0 139.7,202.3 139.2,202.6 138.7,202.9 138.2,203.2 137.7,203.6 137.3,203.8 137.2,203.9 136.7,204.4 136.2,204.9 135.7,205.4 135.2,205.9 134.8,206.3 134.7,206.4 134.5,206.6 134.2,206.9 133.7,207.4 133.2,207.9 132.7,208.4 132.3,208.8 132.2,209.0 131.7,209.8 131.2,210.5 130.7,211.3 130.2,212.1 129.7,212.9 129.2,213.7 128.7,214.5 128.2,215.3 127.7,216.1 127.3,216.7 127.2,216.9 126.7,217.7 126.2,218.5 126.0,218.8 125.7,219.2 125.2,219.9 124.7,220.5 124.2,221.2 123.7,221.9 123.2,222.5 122.7,223.2 122.2,223.9 121.7,224.5 121.2,225.2 121.0,225.5 120.7,225.9 120.2,226.5 119.7,227.2 119.2,227.9 118.7,228.5 118.5,228.8 118.2,230.4 117.9,232.0 117.7,233.0 117.6,233.6 117.4,234.6 117.2,235.7 117.0,236.7 116.7,238.3 116.2,240.9 116.0,242.0 115.7,243.3 115.2,245.5 114.7,247.6 114.6,248.1 114.5,248.5 114.2,249.8 113.7,252.0 113.5,252.8 113.2,254.1 113.0,255.0 112.7,257.2 112.2,261.0 111.7,264.8 111.2,268.5 110.8,271.5 110.7,272.2 110.2,276.0 109.7,279.8 109.3,282.8 109.2,283.5 109.0,285.0 108.7,292.2 108.2,304.1 107.7,316.1 107.2,328.0 106.8,337.6 106.7,340.0 106.2,348.0 105.7,355.9 105.2,363.9 104.7,371.8 104.2,379.8 103.7,387.8 103.2,395.7 102.8,402.1 102.7,403.7 102.2,411.7 101.7,419.6 101.2,427.6 100.7,435.5 100.2,443.5" fill="#dda0dd"/>
<rect x="398.4" y="441.9" width="3" height="1.6" fill="#1818ff"/>
<rect x="420.1" y="441.9" width="3" height="1.6" fill="#1818ff"/>
<rect x="441.8" y="441.9" width="3" height="1.6" fill="#1818ff"/>
<rect x="463.4" y="441.9" width="3" height="1.6" fill="#1818ff"/>
<rect x="485.1" y="441.9" width="3" height="1.6" fill="#1818ff"/>
<rect x="506.8" y="441.9" width="3" height="1.6" fill="#1818ff"/>
<polyline points="100.4,281.0 103.5,255.0 106.6,236.0 109.4,222.5 113.6,203.8 116.2,195.5 119.8,190.0 125.8,184.5 132.5,180.3 139.2,177.0 146.2,174.3 155.4,172.8 161.6,171.9 169.9,168.3 179.1,168.6 186.3,170.4 191.5,175.0 197.7,180.2 203.9,184.3 210.0,187.9 214.2,191.5 217.9,196.0 221.3,202.5 230.0,212.5 237.5,226.3 242.5,233.8 244.4,235.0 251.3,247.5 256.3,260.0 265.0,270.0 268.8,280.0 273.8,290.0 282.5,308.8 288.8,323.8 295.0,340.0 302.5,360.0 310.0,376.3 317.5,391.3 326.3,413.8 333.8,435.0 340.0,443.5" fill="none" stroke="#ff2a1a" stroke-width="1.05" stroke-linejoin="round"/>
<polyline points="100.4,281.0 103.5,256.0 106.6,238.0 109.6,223.0 113.5,207.0 118.0,195.6 121.8,191.9 126.8,187.5 132.8,183.8 140.0,180.7 148.5,178.6 158.0,177.0 169.4,175.0 175.5,176.0 183.3,178.1 188.4,181.2 192.5,187.4 194.8,191.3 202.3,197.5 208.5,201.6 214.0,206.3 217.7,212.5 221.9,219.4 225.0,223.1 230.0,230.0 233.1,236.3 236.3,242.5 239.4,248.8 244.4,256.3 248.1,261.3 250.6,268.1 253.1,274.4 256.3,281.9 264.4,293.0 267.2,298.5 270.6,306.3 273.8,312.5 276.9,319.4 279.4,325.6 282.5,332.5 285.6,338.8 288.1,346.0 291.3,352.2 294.4,359.4 296.9,365.0 300.0,372.5 303.1,378.1 306.9,385.0 310.6,390.6 314.1,397.2 317.5,403.1 321.3,410.0 324.4,416.3 327.5,423.1 330.0,429.4 332.5,436.3 335.6,443.1 336.0,443.5" fill="none" stroke="#1818ff" stroke-width="1.15" stroke-dasharray="7.3,6.4" stroke-linejoin="round"/>
</g>
<g clip-path="url(#cr)">
<polygon points="525.5,300.0 526.3,278.0 527.5,265.0 531.3,240.0 533.8,228.0 540.0,208.8 546.3,197.5 552.5,191.3 561.3,186.9 571.3,183.8 585.0,182.5 593.8,177.5 602.5,178.1 611.3,181.3 615.0,183.8 619.4,189.4 627.5,190.6 636.3,190.0 645.0,196.3 653.1,200.0 661.3,205.0 670.0,209.0 673.8,215.0 680.0,221.3 687.5,225.6 696.3,232.5 705.0,239.4 712.5,246.3 716.5,248.4 721.6,258.7 726.8,268.0 733.0,273.1 737.1,280.3 741.2,287.0 750.0,300.0 755.0,307.5 760.0,316.3 765.0,325.0 768.8,335.0 775.0,343.8 781.3,352.5 787.5,362.5 795.0,372.5 802.5,380.0 805.0,383.0 812.5,393.0 822.5,401.8 830.0,414.3 836.3,425.5 840.0,432.0 848.8,426.0 852.5,435.0 856.3,443.5 872.5,443.5 746.3,443.5 742.5,414.3 738.1,383.0 736.3,372.5 733.8,356.3 730.0,341.3 721.3,325.0 717.5,313.8 712.5,301.3 705.0,290.0 696.3,280.0 687.5,270.0 685.0,268.8 677.5,265.0 670.0,250.0 661.3,244.4 653.8,234.4 645.0,233.8 636.3,228.1 627.5,227.5 618.8,223.8 613.8,217.5 610.0,212.5 602.5,213.8 593.8,212.5 585.0,217.5 575.0,220.6 565.0,231.3 557.5,235.0 552.5,246.3 546.3,256.3 541.9,265.0 540.6,278.0 535.6,304.8 532.2,339.7 529.0,392.0 525.7,443.5" fill="#87ceeb"/>
<polygon points="525.5,301.0 527.0,278.0 528.5,265.0 532.3,240.0 535.6,228.0 542.5,210.0 548.8,200.0 555.0,193.8 565.0,189.4 575.0,186.9 586.3,185.6 593.8,182.5 602.5,183.8 611.3,184.4 617.5,186.6 627.5,177.5 636.3,171.3 646.3,170.6 653.1,168.8 668.8,174.4 678.8,183.1 687.5,183.5 697.5,191.3 705.0,197.5 712.5,202.5 718.8,212.5 721.3,215.0 727.5,221.3 731.9,224.4 738.1,235.0 744.3,244.3 751.5,251.5 757.7,262.8 763.9,271.0 768.0,280.3 772.5,288.8 778.8,300.0 785.0,308.8 791.3,320.0 796.3,328.8 802.5,333.8 810.0,342.5 816.3,351.3 820.0,358.8 825.0,366.3 830.6,368.1 835.0,376.3 838.8,385.0 842.5,390.0 847.5,387.5 853.8,397.5 857.5,407.5 861.3,422.5 865.0,435.0 868.8,440.0 872.5,443.5 872.5,443.5 780.0,443.5 773.8,414.3 770.0,388.0 767.5,377.5 765.0,365.0 760.0,350.0 755.0,340.0 750.0,322.5 747.5,311.3 742.5,300.0 737.5,287.5 732.5,277.5 726.3,270.0 723.7,268.0 718.5,257.7 714.4,248.4 712.5,246.0 705.0,239.1 696.3,232.2 687.5,225.3 680.0,221.0 673.8,214.5 670.0,208.5 661.3,204.5 653.1,200.0 645.0,201.9 636.9,205.0 628.8,210.5 623.8,216.5 618.8,220.0 614.0,215.5 610.0,215.0 602.5,220.6 593.8,219.4 585.0,223.8 576.3,224.4 567.5,232.5 559.4,234.4 555.0,245.0 550.0,252.5 543.1,263.8 541.3,278.0 536.1,304.8 532.6,339.7 529.2,392.0 525.7,443.5" fill="#fbcdee"/>
<polygon points="525.5,301.0 525.7,297.9 526.0,293.3 526.3,288.7 526.5,285.7 527.0,278.0 527.5,273.7 528.0,269.3 528.5,265.0 529.0,261.7 529.2,260.4 529.5,258.4 530.0,255.1 530.5,251.8 531.0,248.6 531.3,246.6 531.5,245.3 532.0,242.0 532.2,240.7 532.3,240.0 532.5,239.3 532.6,238.9 533.0,237.5 533.5,235.6 533.8,234.5 534.0,233.8 534.5,232.0 535.0,230.2 535.5,228.4 535.6,228.0 536.0,227.0 536.1,226.7 536.5,225.7 537.0,224.3 537.5,223.0 538.0,221.7 538.5,220.4 539.0,219.1 539.5,217.8 540.0,216.5 540.5,215.2 540.6,215.0 541.0,213.9 541.3,213.1 541.5,212.6 541.9,211.6 542.0,211.3 542.5,210.0 543.0,209.2 543.1,209.0 543.5,208.4 544.0,207.6 544.5,206.8 545.0,206.0 545.5,205.2 546.0,204.4 546.3,204.0 546.5,203.7 547.0,202.9 547.5,202.1 548.0,201.3 548.5,200.5 548.8,200.0 549.0,199.8 549.5,199.3 550.0,198.8 550.5,198.3 551.0,197.8 551.5,197.3 552.0,196.8 552.5,196.3 553.0,195.8 553.5,195.3 554.0,194.8 554.5,194.3 555.0,193.8 555.5,193.6 556.0,193.4 556.5,193.1 557.0,192.9 557.5,192.7 558.0,192.5 558.5,192.3 559.0,192.0 559.4,191.9 559.5,191.8 560.0,191.6 560.5,191.4 561.0,191.2 561.3,191.0 561.5,190.9 562.0,190.7 562.5,190.5 563.0,190.3 563.5,190.1 564.0,189.8 564.5,189.6 565.0,189.4 565.5,189.3 566.0,189.2 566.5,189.0 567.0,188.9 567.5,188.8 568.0,188.7 568.5,188.5 569.0,188.4 569.5,188.3 570.0,188.2 570.5,188.0 571.0,187.9 571.3,187.8 571.5,187.8 572.0,187.7 572.5,187.5 573.0,187.4 573.5,187.3 574.0,187.2 574.5,187.0 575.0,186.9 575.5,186.8 576.0,186.8 576.3,186.8 576.5,186.7 577.0,186.7 577.5,186.6 578.0,186.6 578.5,186.5 579.0,186.4 579.5,186.4 580.0,186.3 580.5,186.3 581.0,186.2 581.5,186.2 582.0,186.1 582.5,186.0 583.0,186.0 583.5,185.9 584.0,185.9 584.5,185.8 585.0,185.7 585.5,185.7 586.0,185.6 586.3,185.6 586.5,185.5 587.0,185.3 587.5,185.1 588.0,184.9 588.5,184.7 589.0,184.5 589.5,184.3 590.0,184.1 590.5,183.9 591.0,183.7 591.5,183.5 592.0,183.2 592.5,183.0 593.0,182.8 593.5,182.6 593.8,182.5 594.0,182.5 594.5,182.6 595.0,182.7 595.5,182.8 596.0,182.8 596.5,182.9 597.0,183.0 597.5,183.1 598.0,183.1 598.5,183.2 599.0,183.3 599.5,183.4 600.0,183.4 600.5,183.5 601.0,183.6 601.5,183.7 602.0,183.7 602.5,183.8 603.0,183.8 603.5,183.9 604.0,183.9 604.5,183.9 605.0,184.0 605.5,184.0 606.0,184.0 606.5,184.1 607.0,184.1 607.5,184.1 608.0,184.2 608.5,184.2 609.0,184.2 609.5,184.3 610.0,184.3 610.5,184.3 611.0,184.4 611.3,184.4 611.5,184.5 612.0,184.6 612.5,184.8 613.0,185.0 613.5,185.2 613.8,185.3 614.0,185.4 614.5,185.5 615.0,185.7 615.5,185.9 616.0,186.1 616.5,186.2 617.0,186.4 617.5,187.0 618.0,187.6 618.5,188.3 618.8,188.6 619.0,188.9 619.4,189.4 619.5,189.4 620.0,189.5 620.5,189.6 621.0,189.6 621.5,189.7 622.0,189.8 622.5,189.9 623.0,189.9 623.5,190.0 623.8,190.1 624.0,190.1 624.5,190.2 625.0,190.2 625.5,190.3 626.0,190.4 626.5,190.5 627.0,190.5 627.5,190.6 628.0,190.6 628.5,190.5 628.8,190.5 629.0,190.5 629.5,190.5 630.0,190.4 630.5,190.4 631.0,190.4 631.5,190.3 632.0,190.3 632.5,190.3 633.0,190.2 633.5,190.2 634.0,190.2 634.5,190.1 635.0,190.1 635.5,190.1 636.0,190.0 636.3,190.0 636.5,190.1 636.9,190.4 637.0,190.5 637.5,190.9 638.0,191.2 638.5,191.6 639.0,192.0 639.5,192.3 640.0,192.7 640.5,193.0 641.0,193.4 641.5,193.8 642.0,194.1 642.5,194.5 643.0,194.9 643.5,195.2 644.0,195.6 644.5,195.9 645.0,196.3 645.5,196.5 646.0,196.8 646.3,196.9 646.5,197.0 647.0,197.2 647.5,197.4 648.0,197.7 648.5,197.9 649.0,198.1 649.5,198.4 650.0,198.6 650.5,198.8 651.0,199.0 651.5,199.3 652.0,199.5 652.5,199.7 653.0,200.0 653.1,200.0 653.1,200.0 653.0,200.0 652.5,200.1 652.0,200.3 651.5,200.4 651.0,200.5 650.5,200.6 650.0,200.7 649.5,200.8 649.0,201.0 648.5,201.1 648.0,201.2 647.5,201.3 647.0,201.4 646.5,201.5 646.3,201.6 646.0,201.7 645.5,201.8 645.0,201.9 644.5,202.1 644.0,202.3 643.5,202.5 643.0,202.7 642.5,202.9 642.0,203.0 641.5,203.2 641.0,203.4 640.5,203.6 640.0,203.8 639.5,204.0 639.0,204.2 638.5,204.4 638.0,204.6 637.5,204.8 637.0,205.0 636.9,205.0 636.5,205.3 636.3,205.4 636.0,205.6 635.5,206.0 635.0,206.3 634.5,206.6 634.0,207.0 633.5,207.3 633.0,207.6 632.5,208.0 632.0,208.3 631.5,208.7 631.0,209.0 630.5,209.3 630.0,209.7 629.5,210.0 629.0,210.4 628.8,210.5 628.5,210.9 628.0,211.5 627.5,212.1 627.0,212.7 626.5,213.3 626.0,213.9 625.5,214.5 625.0,215.1 624.5,215.7 624.0,216.3 623.8,216.5 623.5,216.7 623.0,217.1 622.5,217.4 622.0,217.8 621.5,218.1 621.0,218.5 620.5,218.8 620.0,219.2 619.5,219.5 619.4,219.6 619.0,219.9 618.8,220.0 618.5,219.7 618.0,219.3 617.5,218.8 617.0,218.3 616.5,217.8 616.0,217.4 615.5,216.9 615.0,216.4 614.5,216.0 614.0,215.5 613.8,215.5 613.5,215.4 613.0,215.4 612.5,215.3 612.0,215.1 611.5,214.5 611.3,214.2 611.0,213.8 610.5,213.2 610.0,212.5 609.5,212.6 609.0,212.7 608.5,212.8 608.0,212.8 607.5,212.9 607.0,213.0 606.5,213.1 606.0,213.2 605.5,213.3 605.0,213.4 604.5,213.5 604.0,213.5 603.5,213.6 603.0,213.7 602.5,213.8 602.0,213.7 601.5,213.7 601.0,213.6 600.5,213.5 600.0,213.4 599.5,213.4 599.0,213.3 598.5,213.2 598.0,213.1 597.5,213.1 597.0,213.0 596.5,212.9 596.0,212.8 595.5,212.8 595.0,212.7 594.5,212.6 594.0,212.5 593.8,212.5 593.5,212.7 593.0,213.0 592.5,213.2 592.0,213.5 591.5,213.8 591.0,214.1 590.5,214.4 590.0,214.7 589.5,214.9 589.0,215.2 588.5,215.5 588.0,215.8 587.5,216.1 587.0,216.4 586.5,216.6 586.3,216.8 586.0,216.9 585.5,217.2 585.0,217.5 584.5,217.7 584.0,217.8 583.5,218.0 583.0,218.1 582.5,218.3 582.0,218.4 581.5,218.6 581.0,218.7 580.5,218.9 580.0,219.1 579.5,219.2 579.0,219.4 578.5,219.5 578.0,219.7 577.5,219.8 577.0,220.0 576.5,220.1 576.3,220.2 576.0,220.3 575.5,220.4 575.0,220.6 574.5,221.1 574.0,221.7 573.5,222.2 573.0,222.7 572.5,223.3 572.0,223.8 571.5,224.3 571.3,224.6 571.0,224.9 570.5,225.4 570.0,225.9 569.5,226.5 569.0,227.0 568.5,227.6 568.0,228.1 567.5,228.6 567.0,229.2 566.5,229.7 566.0,230.2 565.5,230.8 565.0,231.3 564.5,231.5 564.0,231.8 563.5,232.0 563.0,232.3 562.5,232.5 562.0,232.8 561.5,233.0 561.3,233.1 561.0,233.3 560.5,233.5 560.0,233.8 559.5,234.0 559.4,234.1 559.0,234.3 558.5,234.5 558.0,234.8 557.5,235.0 557.0,236.1 556.5,237.3 556.0,238.4 555.5,239.5 555.0,240.7 554.5,241.8 554.0,242.9 553.5,244.0 553.0,245.2 552.5,246.3 552.0,247.1 551.5,247.9 551.0,248.7 550.5,249.5 550.0,250.3 549.5,251.1 549.0,251.9 548.8,252.3 548.5,252.8 548.0,253.6 547.5,254.4 547.0,255.2 546.5,256.0 546.3,256.3 546.0,256.9 545.5,257.9 545.0,258.9 544.5,259.9 544.0,260.8 543.5,261.8 543.1,262.6 543.0,262.8 542.5,263.8 542.0,264.8 541.9,265.0 541.5,269.0 541.3,271.0 541.0,274.0 540.6,278.0 540.5,278.5 540.0,281.2 539.5,283.9 539.0,286.6 538.5,289.3 538.0,291.9 537.5,294.6 537.0,297.3 536.5,300.0 536.1,302.1 536.0,302.7 535.6,304.8 535.5,305.8 535.0,311.0 534.5,316.1 534.0,321.2 533.8,323.3 533.5,326.4 533.0,331.5 532.6,335.6 532.5,336.6 532.3,338.7 532.2,339.7 532.0,343.0 531.5,351.1 531.3,354.4 531.0,359.3 530.5,367.5 530.0,375.7 529.5,383.8 529.2,388.7 529.0,392.0 528.5,399.8 528.0,407.6 527.5,415.4 527.0,423.2 526.5,431.0 526.3,434.1 526.0,438.8 525.7,443.5 525.5,443.5" fill="#dda0dd"/>
<polygon points="712.5,246.2 713.0,246.6 713.5,246.8 714.0,247.1 714.4,247.3 714.5,247.4 715.0,247.6 715.5,247.9 716.0,248.1 716.5,248.4 717.0,249.4 717.5,250.4 718.0,251.4 718.5,252.4 718.8,253.0 719.0,253.4 719.5,254.5 720.0,255.5 720.5,256.5 721.0,257.5 721.3,258.1 721.5,258.5 721.6,258.7 722.0,259.4 722.5,260.3 723.0,261.2 723.5,262.1 723.7,262.5 724.0,263.0 724.5,263.9 725.0,264.8 725.5,265.7 726.0,266.6 726.3,267.1 726.5,267.5 726.8,268.0 727.0,268.2 727.5,268.6 728.0,269.0 728.5,269.4 729.0,269.8 729.5,270.2 730.0,270.6 730.5,271.0 731.0,271.5 731.5,271.9 731.9,272.2 732.0,272.3 732.5,272.7 733.0,273.1 733.5,274.0 733.8,274.5 734.0,274.9 734.5,275.7 735.0,276.6 735.5,277.5 736.0,278.4 736.3,278.9 736.5,279.2 737.0,280.1 737.1,280.3 737.5,281.0 738.0,281.8 738.1,281.9 738.5,282.6 739.0,283.4 739.5,284.2 740.0,285.0 740.5,285.9 741.0,286.7 741.2,287.0 741.5,287.4 742.0,288.2 742.5,288.9 743.0,289.7 743.5,290.4 744.0,291.1 744.3,291.6 744.5,291.9 745.0,292.6 745.5,293.4 746.0,294.1 746.3,294.5 746.5,294.8 747.0,295.6 747.5,296.3 748.0,297.0 748.5,297.8 749.0,298.5 749.5,299.3 750.0,300.0 750.5,300.8 751.0,301.5 751.5,302.2 752.0,303.0 752.5,303.8 753.0,304.5 753.5,305.2 754.0,306.0 754.5,306.8 755.0,307.5 755.5,308.4 756.0,309.3 756.5,310.1 757.0,311.0 757.5,311.9 757.7,312.3 758.0,312.8 758.5,313.7 759.0,314.5 759.5,315.4 760.0,316.3 760.5,317.2 761.0,318.0 761.5,318.9 762.0,319.8 762.5,320.6 763.0,321.5 763.5,322.4 763.9,323.1 764.0,323.3 764.5,324.1 765.0,325.0 765.5,326.3 766.0,327.6 766.5,328.9 767.0,330.3 767.5,331.6 768.0,332.9 768.5,334.2 768.8,335.0 769.0,335.3 769.5,336.0 770.0,336.7 770.5,337.4 771.0,338.1 771.5,338.8 772.0,339.5 772.5,340.3 773.0,341.0 773.5,341.7 773.8,342.1 774.0,342.4 774.5,343.1 775.0,343.8 775.5,344.5 776.0,345.2 776.5,345.9 777.0,346.6 777.5,347.3 778.0,347.9 778.5,348.6 778.8,349.0 779.0,349.3 779.5,350.0 780.0,350.7 780.5,351.4 781.0,352.1 781.3,352.5 781.5,352.8 782.0,353.6 782.5,354.4 783.0,355.2 783.5,356.0 784.0,356.9 784.5,357.7 785.0,358.5 785.5,359.3 786.0,360.1 786.5,360.9 787.0,361.7 787.5,362.5 788.0,363.2 788.5,363.8 789.0,364.5 789.5,365.2 790.0,365.8 790.5,366.5 791.0,367.2 791.3,367.6 791.5,367.8 792.0,368.5 792.5,369.2 793.0,369.8 793.5,370.5 794.0,371.2 794.5,371.8 795.0,372.5 795.5,373.0 796.0,373.5 796.3,373.8 796.5,374.0 797.0,374.5 797.5,375.0 798.0,375.5 798.5,376.0 799.0,376.5 799.5,377.0 800.0,377.5 800.5,378.0 801.0,378.5 801.5,379.0 802.0,379.5 802.5,380.0 803.0,380.6 803.5,381.2 804.0,381.8 804.5,382.4 805.0,383.0 805.5,383.7 806.0,384.3 806.5,385.0 807.0,385.7 807.5,386.3 808.0,387.0 808.5,387.7 809.0,388.3 809.5,389.0 810.0,389.7 810.5,390.3 811.0,391.0 811.5,391.7 812.0,392.3 812.5,393.0 813.0,393.4 813.5,393.9 814.0,394.3 814.5,394.8 815.0,395.2 815.5,395.6 816.0,396.1 816.3,396.3 816.5,396.5 817.0,397.0 817.5,397.4 818.0,397.8 818.5,398.3 819.0,398.7 819.5,399.2 820.0,399.6 820.5,400.0 821.0,400.5 821.5,400.9 822.0,401.4 822.5,401.8 823.0,402.6 823.5,403.5 824.0,404.3 824.5,405.1 825.0,406.0 825.5,406.8 826.0,407.6 826.5,408.5 827.0,409.3 827.5,410.1 828.0,411.0 828.5,411.8 829.0,412.6 829.5,413.5 830.0,414.3 830.5,415.2 830.6,415.4 831.0,416.1 831.5,417.0 832.0,417.9 832.5,418.7 833.0,419.6 833.5,420.5 834.0,421.4 834.5,422.3 835.0,423.2 835.5,424.1 836.0,425.0 836.3,425.5 836.5,425.9 837.0,426.7 837.5,427.6 838.0,428.5 838.5,429.4 838.8,429.9 839.0,430.2 839.5,431.1 840.0,432.0 840.5,431.7 841.0,431.3 841.5,431.0 842.0,430.6 842.5,430.3 843.0,430.0 843.5,429.6 844.0,429.3 844.5,428.9 845.0,428.6 845.5,428.2 846.0,427.9 846.5,427.6 847.0,427.2 847.5,426.9 848.0,426.5 848.5,426.2 848.8,426.0 849.0,426.5 849.5,427.7 850.0,428.9 850.5,430.1 851.0,431.4 851.5,432.6 852.0,433.8 852.5,435.0 853.0,436.1 853.5,437.2 853.8,437.9 854.0,438.4 854.5,439.5 855.0,440.6 855.5,441.7 856.0,442.8 856.3,443.5 856.3,443.5 856.0,443.5 855.5,443.5 855.0,443.5 854.5,443.5 854.0,443.5 853.8,443.5 853.5,443.5 853.0,443.5 852.5,443.5 852.0,443.5 851.5,443.5 851.0,443.5 850.5,443.5 850.0,443.5 849.5,443.5 849.0,443.5 848.8,443.5 848.5,443.5 848.0,443.5 847.5,443.5 847.0,443.5 846.5,443.5 846.0,443.5 845.5,443.5 845.0,443.5 844.5,443.5 844.0,443.5 843.5,443.5 843.0,443.5 842.5,443.5 842.0,443.5 841.5,443.5 841.0,443.5 840.5,443.5 840.0,443.5 839.5,443.5 839.0,443.5 838.8,443.5 838.5,443.5 838.0,443.5 837.5,443.5 837.0,443.5 836.5,443.5 836.3,443.5 836.0,443.5 835.5,443.5 835.0,443.5 834.5,443.5 834.0,443.5 833.5,443.5 833.0,443.5 832.5,443.5 832.0,443.5 831.5,443.5 831.0,443.5 830.6,443.5 830.5,443.5 830.0,443.5 829.5,443.5 829.0,443.5 828.5,443.5 828.0,443.5 827.5,443.5 827.0,443.5 826.5,443.5 826.0,443.5 825.5,443.5 825.0,443.5 824.5,443.5 824.0,443.5 823.5,443.5 823.0,443.5 822.5,443.5 822.0,443.5 821.5,443.5 821.0,443.5 820.5,443.5 820.0,443.5 819.5,443.5 819.0,443.5 818.5,443.5 818.0,443.5 817.5,443.5 817.0,443.5 816.5,443.5 816.3,443.5 816.0,443.5 815.5,443.5 815.0,443.5 814.5,443.5 814.0,443.5 813.5,443.5 813.0,443.5 812.5,443.5 812.0,443.5 811.5,443.5 811.0,443.5 810.5,443.5 810.0,443.5 809.5,443.5 809.0,443.5 808.5,443.5 808.0,443.5 807.5,443.5 807.0,443.5 806.5,443.5 806.0,443.5 805.5,443.5 805.0,443.5 804.5,443.5 804.0,443.5 803.5,443.5 803.0,443.5 802.5,443.5 802.0,443.5 801.5,443.5 801.0,443.5 800.5,443.5 800.0,443.5 799.5,443.5 799.0,443.5 798.5,443.5 798.0,443.5 797.5,443.5 797.0,443.5 796.5,443.5 796.3,443.5 796.0,443.5 795.5,443.5 795.0,443.5 794.5,443.5 794.0,443.5 793.5,443.5 793.0,443.5 792.5,443.5 792.0,443.5 791.5,443.5 791.3,443.5 791.0,443.5 790.5,443.5 790.0,443.5 789.5,443.5 789.0,443.5 788.5,443.5 788.0,443.5 787.5,443.5 787.0,443.5 786.5,443.5 786.0,443.5 785.5,443.5 785.0,443.5 784.5,443.5 784.0,443.5 783.5,443.5 783.0,443.5 782.5,443.5 782.0,443.5 781.5,443.5 781.3,443.5 781.0,443.5 780.5,443.5 780.0,443.5 779.5,441.1 779.0,438.8 778.8,437.8 778.5,436.4 778.0,434.1 777.5,431.7 777.0,429.4 776.5,427.0 776.0,424.7 775.5,422.3 775.0,420.0 774.5,417.6 774.0,415.2 773.8,414.3 773.5,412.2 773.0,408.8 772.5,405.3 772.0,401.8 771.5,398.4 771.0,394.9 770.5,391.5 770.0,388.0 769.5,385.9 769.0,383.8 768.8,383.0 768.5,381.7 768.0,379.6 767.5,377.5 767.0,375.0 766.5,372.5 766.0,370.0 765.5,367.5 765.0,365.0 764.5,363.5 764.0,362.0 763.9,361.7 763.5,360.5 763.0,359.0 762.5,357.5 762.0,356.0 761.5,354.5 761.0,353.0 760.5,351.5 760.0,350.0 759.5,349.0 759.0,348.0 758.5,347.0 758.0,346.0 757.7,345.4 757.5,345.0 757.0,344.0 756.5,343.0 756.0,342.0 755.5,341.0 755.0,340.0 754.5,338.2 754.0,336.5 753.5,334.8 753.0,333.0 752.5,331.2 752.0,329.5 751.5,327.8 751.0,326.0 750.5,324.2 750.0,322.5 749.5,320.3 749.0,318.0 748.5,315.8 748.0,313.5 747.5,311.3 747.0,310.2 746.5,309.0 746.3,308.6 746.0,307.9 745.5,306.8 745.0,305.6 744.5,304.5 744.3,304.1 744.0,303.4 743.5,302.3 743.0,301.1 742.5,300.0 742.0,298.8 741.5,297.5 741.2,296.8 741.0,296.2 740.5,295.0 740.0,293.8 739.5,292.5 739.0,291.2 738.5,290.0 738.1,289.0 738.0,288.8 737.5,287.5 737.1,286.7 737.0,286.5 736.5,285.5 736.3,285.1 736.0,284.5 735.5,283.5 735.0,282.5 734.5,281.5 734.0,280.5 733.8,280.1 733.5,279.5 733.0,278.5 732.5,277.5 732.0,276.9 731.9,276.8 731.5,276.3 731.0,275.7 730.5,275.1 730.0,274.5 729.5,273.9 729.0,273.3 728.5,272.7 728.0,272.1 727.5,271.5 727.0,270.8 726.8,270.6 726.5,270.2 726.3,270.0 726.0,269.8 725.5,269.4 725.0,269.0 724.5,268.6 724.0,268.2 723.7,268.0 723.5,267.6 723.0,266.6 722.5,265.6 722.0,264.6 721.6,263.8 721.5,263.6 721.3,263.2 721.0,262.7 720.5,261.7 720.0,260.7 719.5,259.7 719.0,258.7 718.8,258.3 718.5,257.7 718.0,256.6 717.5,255.4 717.0,254.3 716.5,253.2 716.0,252.0 715.5,250.9 715.0,249.8 714.5,248.6 714.4,248.4 714.0,247.9 713.5,247.3 713.0,246.6 712.5,246.2" fill="#dda0dd"/>
<rect x="881.0" y="441.9" width="3" height="1.6" fill="#1818ff"/>
<rect x="902.2" y="441.9" width="3" height="1.6" fill="#1818ff"/>
<rect x="923.5" y="441.9" width="3" height="1.6" fill="#1818ff"/>
<polyline points="525.7,303.0 529.4,278.0 533.8,252.5 538.8,232.5 541.9,226.3 547.5,218.8 558.8,207.5 567.5,205.0 576.3,200.6 585.6,200.6 595.0,196.0 602.5,197.3 611.3,196.5 619.4,199.7 627.5,191.3 636.3,184.4 645.0,184.4 653.1,181.3 661.3,185.6 669.4,188.1 678.8,197.5 687.5,198.1 696.3,203.8 705.0,211.3 712.5,217.5 713.8,220.0 720.0,232.5 722.1,235.0 729.9,241.2 735.0,248.4 741.2,257.7 747.4,269.0 755.0,281.3 762.5,292.5 767.5,303.8 772.5,313.8 777.5,325.0 782.5,337.5 790.0,352.5 797.5,367.5 806.3,376.3 810.0,383.0 816.3,393.0 823.1,410.0 832.0,418.7 835.0,432.8 837.5,443.5" fill="none" stroke="#ff2a1a" stroke-width="1.05" stroke-linejoin="round"/>
<polyline points="525.5,301.0 528.3,280.0 532.3,255.0 536.8,234.0 540.5,226.0 545.0,217.5 548.8,213.1 555.0,206.3 560.6,201.9 567.5,200.0 573.8,197.5 581.3,196.3 590.0,193.1 601.3,191.9 608.8,193.8 613.8,195.6 618.8,203.1 625.0,204.4 631.3,204.4 638.8,206.3 648.0,210.0 658.1,215.6 663.1,220.0 670.0,227.0 678.1,236.3 683.8,238.1 692.0,246.0 701.3,252.5 705.6,256.9 711.9,262.5 718.1,273.8 721.3,280.6 725.6,286.9 730.0,291.9 733.8,298.8 737.5,304.4 741.3,311.9 745.0,317.5 748.1,324.6 750.6,330.0 753.8,336.9 756.9,343.1 760.0,349.4 763.8,355.6 766.9,363.1 769.4,368.8 771.9,376.3 775.0,381.9 778.1,389.3 781.3,395.5 784.4,402.4 786.9,408.6 789.4,415.5 792.5,421.8 796.3,428.0 800.6,434.3 805.0,439.3 807.5,443.5" fill="none" stroke="#1818ff" stroke-width="1.15" stroke-dasharray="7.3,6.4" stroke-linejoin="round"/>
</g>
<g clip-path="url(#cl)" stroke="#000" stroke-width="1" fill="none"><path d="M103.3 199.6H111.3M103.3 198.2V201.0M111.3 198.2V201.0"/><path d="M107.3 197.6V201.6M105.9 197.6H108.7M105.9 201.6H108.7"/><path d="M124.5 180.4H133.5M124.5 179.0V181.8M133.5 179.0V181.8"/><path d="M129.0 178.4V182.4M127.6 178.4H130.4M127.6 182.4H130.4"/><path d="M144.8 145.4H156.4M144.8 144.0V146.8M156.4 144.0V146.8"/><path d="M150.6 143.8V147.0M149.2 143.8H152.0M149.2 147.0H152.0"/><path d="M166.3 156.3H178.3M166.3 154.9V157.7M178.3 154.9V157.7"/><path d="M172.3 154.7V157.9M170.9 154.7H173.7M170.9 157.9H173.7"/><path d="M186.5 157.3H201.5M186.5 155.9V158.7M201.5 155.9V158.7"/><path d="M194.0 155.7V158.9M192.6 155.7H195.4M192.6 158.9H195.4"/><path d="M203.7 184.5H227.7M203.7 183.1V185.9M227.7 183.1V185.9"/><path d="M215.7 182.0V187.0M214.3 182.0H217.1M214.3 187.0H217.1"/><path d="M221.3 182.9H253.3M221.3 181.5V184.3M253.3 181.5V184.3"/><path d="M237.3 180.1V185.7M235.9 180.1H238.7M235.9 185.7H238.7"/><path d="M241.4 203.8H276.6M241.4 202.4V205.2M276.6 202.4V205.2"/><path d="M259.0 201.0V206.6M257.6 201.0H260.4M257.6 206.6H260.4"/><path d="M262.7 217.8H298.7M262.7 216.4V219.2M298.7 216.4V219.2"/><path d="M280.7 214.8V220.8M279.3 214.8H282.1M279.3 220.8H282.1"/><path d="M282.9 230.2H321.9M282.9 228.8V231.6M321.9 228.8V231.6"/><path d="M302.4 226.2V234.2M301.0 226.2H303.8M301.0 234.2H303.8"/><path d="M306.0 222.1H342.0M306.0 220.7V223.5M342.0 220.7V223.5"/><path d="M324.0 218.6V225.6M322.6 218.6H325.4M322.6 225.6H325.4"/><path d="M332.2 237.3H359.2M332.2 235.9V238.7M359.2 235.9V238.7"/><path d="M345.7 232.3V242.3M344.3 232.3H347.1M344.3 242.3H347.1"/><path d="M351.4 267.9H383.4M351.4 266.5V269.3M383.4 266.5V269.3"/><path d="M367.4 260.5V275.3M366.0 260.5H368.8M366.0 275.3H368.8"/><path d="M377.6 267.9H400.6M377.6 266.5V269.3M400.6 266.5V269.3"/><path d="M389.1 260.5V275.3M387.7 260.5H390.5M387.7 275.3H390.5"/><path d="M398.2 280.6H423.2M398.2 279.2V282.0M423.2 279.2V282.0"/><path d="M410.7 271.9V289.3M409.3 271.9H412.1M409.3 289.3H412.1"/><path d="M415.4 342.3H449.4M415.4 340.9V343.7M449.4 340.9V343.7"/><path d="M432.4 326.3V368.1M431.0 326.3H433.8M431.0 368.1H433.8"/><path d="M436.3 395.6H471.9M436.3 394.2V397.0M471.9 394.2V397.0"/><path d="M454.1 368.5V460.0M452.7 368.5H455.5M452.7 460.0H455.5"/><path d="M457.8 395.6H493.8M457.8 394.2V397.0M493.8 394.2V397.0"/><path d="M475.8 368.5V460.0M474.4 368.5H477.2M474.4 460.0H477.2"/><path d="M473.4 395.6H521.4M473.4 394.2V397.0M521.4 394.2V397.0"/><path d="M497.4 368.5V460.0M496.0 368.5H498.8M496.0 460.0H498.8"/></g><g clip-path="url(#cl)"><circle cx="107.3" cy="199.6" r="2.85" fill="none" stroke="#000" stroke-width="0.75"/><circle cx="129.0" cy="180.4" r="2.85" fill="none" stroke="#000" stroke-width="0.75"/><circle cx="150.6" cy="145.4" r="2.85" fill="none" stroke="#000" stroke-width="0.75"/><circle cx="172.3" cy="156.3" r="2.85" fill="none" stroke="#000" stroke-width="0.75"/><circle cx="194.0" cy="157.3" r="2.85" fill="none" stroke="#000" stroke-width="0.75"/><circle cx="215.7" cy="184.5" r="2.85" fill="none" stroke="#000" stroke-width="0.75"/><circle cx="237.3" cy="182.9" r="2.85" fill="none" stroke="#000" stroke-width="0.75"/><circle cx="259.0" cy="203.8" r="2.85" fill="none" stroke="#000" stroke-width="0.75"/><circle cx="280.7" cy="217.8" r="2.85" fill="none" stroke="#000" stroke-width="0.75"/><circle cx="302.4" cy="230.2" r="2.85" fill="none" stroke="#000" stroke-width="0.75"/><circle cx="324.0" cy="222.1" r="2.85" fill="none" stroke="#000" stroke-width="0.75"/><circle cx="345.7" cy="237.3" r="2.85" fill="none" stroke="#000" stroke-width="0.75"/><circle cx="367.4" cy="267.9" r="2.85" fill="none" stroke="#000" stroke-width="0.75"/><circle cx="389.1" cy="267.9" r="2.85" fill="none" stroke="#000" stroke-width="0.75"/><circle cx="410.7" cy="280.6" r="2.85" fill="none" stroke="#000" stroke-width="0.75"/><circle cx="432.4" cy="342.3" r="2.85" fill="none" stroke="#000" stroke-width="0.75"/><circle cx="454.1" cy="395.6" r="2.85" fill="none" stroke="#000" stroke-width="0.75"/><circle cx="475.8" cy="395.6" r="2.85" fill="none" stroke="#000" stroke-width="0.75"/><circle cx="497.4" cy="395.6" r="2.85" fill="none" stroke="#000" stroke-width="0.75"/></g>
<g clip-path="url(#cl)" stroke="#0000ee" stroke-width="1" fill="none"><path d="M118.5 176.5V178.5M117.1 176.5H119.9M117.1 178.5H119.9"/><path d="M139.5 177.1V179.1M138.1 177.1H140.9M138.1 179.1H140.9"/><path d="M161.5 157.0V159.0M160.1 157.0H162.9M160.1 159.0H162.9"/><path d="M183.5 162.0V164.0M182.1 162.0H184.9M182.1 164.0H184.9"/><path d="M204.5 175.6V177.4M203.1 175.6H205.9M203.1 177.4H205.9"/><path d="M226.5 184.4V186.6M225.1 184.4H227.9M225.1 186.6H227.9"/><path d="M248.5 197.0V200.0M247.1 197.0H249.9M247.1 200.0H249.9"/><path d="M269.5 213.4V217.2M268.1 213.4H270.9M268.1 217.2H270.9"/><path d="M291.5 225.9V229.7M290.1 225.9H292.9M290.1 229.7H292.9"/><path d="M313.5 245.8V250.4M312.1 245.8H314.9M312.1 250.4H314.9"/><path d="M334.5 253.8V258.8M333.1 253.8H335.9M333.1 258.8H335.9"/><path d="M356.5 277.0V283.0M355.1 277.0H357.9M355.1 283.0H357.9"/><path d="M378.5 276.6V282.6M377.1 276.6H379.9M377.1 282.6H379.9"/><path d="M399.5 298.4V305.4M398.1 298.4H400.9M398.1 305.4H400.9"/><path d="M421.5 340.6V356.3M420.1 340.6H422.9M420.1 356.3H422.9"/><path d="M443.5 378.8V408.4M442.1 378.8H444.9M442.1 408.4H444.9"/></g><g clip-path="url(#cl)"><rect x="115.0" y="174.4" width="6.2" height="6.2" fill="none" stroke="#3a3aff" stroke-width="0.8"/><rect x="136.7" y="175.0" width="6.2" height="6.2" fill="none" stroke="#3a3aff" stroke-width="0.8"/><rect x="158.4" y="154.9" width="6.2" height="6.2" fill="none" stroke="#3a3aff" stroke-width="0.8"/><rect x="180.1" y="159.9" width="6.2" height="6.2" fill="none" stroke="#3a3aff" stroke-width="0.8"/><rect x="201.7" y="173.4" width="6.2" height="6.2" fill="none" stroke="#3a3aff" stroke-width="0.8"/><rect x="223.4" y="182.4" width="6.2" height="6.2" fill="none" stroke="#3a3aff" stroke-width="0.8"/><rect x="245.1" y="195.4" width="6.2" height="6.2" fill="none" stroke="#3a3aff" stroke-width="0.8"/><rect x="266.8" y="212.2" width="6.2" height="6.2" fill="none" stroke="#3a3aff" stroke-width="0.8"/><rect x="288.4" y="224.7" width="6.2" height="6.2" fill="none" stroke="#3a3aff" stroke-width="0.8"/><rect x="310.1" y="245.0" width="6.2" height="6.2" fill="none" stroke="#3a3aff" stroke-width="0.8"/><rect x="331.8" y="253.2" width="6.2" height="6.2" fill="none" stroke="#3a3aff" stroke-width="0.8"/><rect x="353.5" y="276.9" width="6.2" height="6.2" fill="none" stroke="#3a3aff" stroke-width="0.8"/><rect x="375.1" y="276.5" width="6.2" height="6.2" fill="none" stroke="#3a3aff" stroke-width="0.8"/><rect x="396.8" y="298.8" width="6.2" height="6.2" fill="none" stroke="#3a3aff" stroke-width="0.8"/><rect x="418.5" y="344.2" width="6.2" height="6.2" fill="none" stroke="#3a3aff" stroke-width="0.8"/><rect x="440.2" y="388.2" width="6.2" height="6.2" fill="none" stroke="#3a3aff" stroke-width="0.8"/></g>
<g clip-path="url(#cl)" stroke="#000" stroke-width="1" fill="none"><path d="M103.3 224.8H111.3M103.3 223.4V226.2M111.3 223.4V226.2"/><path d="M107.3 219.8V229.8M105.9 219.8H108.7M105.9 229.8H108.7"/><path d="M124.0 208.5H134.0M124.0 207.1V209.9M134.0 207.1V209.9"/><path d="M129.0 204.5V212.5M127.6 204.5H130.4M127.6 212.5H130.4"/><path d="M146.6 174.0H154.6M146.6 172.6V175.4M154.6 172.6V175.4"/><path d="M150.6 172.0V176.0M149.2 172.0H152.0M149.2 176.0H152.0"/><path d="M166.3 185.9H178.3M166.3 184.5V187.3M178.3 184.5V187.3"/><path d="M172.3 183.9V187.9M170.9 183.9H173.7M170.9 187.9H173.7"/><path d="M186.0 193.4H202.0M186.0 192.0V194.8M202.0 192.0V194.8"/><path d="M194.0 190.4V196.4M192.6 190.4H195.4M192.6 196.4H195.4"/><path d="M203.5 230.0H227.9M203.5 228.6V231.4M227.9 228.6V231.4"/><path d="M215.7 226.0V234.0M214.3 226.0H217.1M214.3 234.0H217.1"/><path d="M221.3 236.9H253.3M221.3 235.5V238.3M253.3 235.5V238.3"/><path d="M237.3 231.9V241.9M235.9 231.9H238.7M235.9 241.9H238.7"/><path d="M241.5 284.8H276.5M241.5 283.4V286.2M276.5 283.4V286.2"/><path d="M259.0 276.3V295.0M257.6 276.3H260.4M257.6 295.0H260.4"/><path d="M262.5 289.1H298.9M262.5 287.7V290.5M298.9 287.7V290.5"/><path d="M280.7 280.6V300.9M279.3 280.6H282.1M279.3 300.9H282.1"/><path d="M283.2 315.9H321.6M283.2 314.5V317.3M321.6 314.5V317.3"/><path d="M302.4 304.4V332.5M301.0 304.4H303.8M301.0 332.5H303.8"/><path d="M306.2 342.5H341.8M306.2 341.1V343.9M341.8 341.1V343.9"/><path d="M324.0 326.9V368.5M322.6 326.9H325.4M322.6 368.5H325.4"/></g><g clip-path="url(#cl)"><circle cx="107.3" cy="224.8" r="2.9" fill="#000"/><circle cx="129.0" cy="208.5" r="2.9" fill="#000"/><circle cx="150.6" cy="174.0" r="2.9" fill="#000"/><circle cx="172.3" cy="185.9" r="2.9" fill="#000"/><circle cx="194.0" cy="193.4" r="2.9" fill="#000"/><circle cx="215.7" cy="230.0" r="2.9" fill="#000"/><circle cx="237.3" cy="236.9" r="2.9" fill="#000"/><circle cx="259.0" cy="284.8" r="2.9" fill="#000"/><circle cx="280.7" cy="289.1" r="2.9" fill="#000"/><circle cx="302.4" cy="315.9" r="2.9" fill="#000"/><circle cx="324.0" cy="342.5" r="2.9" fill="#000"/></g>
<g clip-path="url(#cl)" stroke="#0000ee" stroke-width="1" fill="none"><path d="M291.5 290.4V298.4M290.1 290.4H292.9M290.1 298.4H292.9"/><path d="M313.5 326.6V339.4M312.1 326.6H314.9M312.1 339.4H314.9"/><path d="M334.5 339.4V355.6M333.1 339.4H335.9M333.1 355.6H335.9"/><path d="M356.5 377.3V405.6M355.1 377.3H357.9M355.1 405.6H357.9"/><path d="M378.5 389.4V424.4M377.1 389.4H379.9M377.1 424.4H379.9"/></g><g clip-path="url(#cl)"><rect x="114.9" y="196.2" width="6.4" height="6.4" fill="#0000ee"/><rect x="136.6" y="199.1" width="6.4" height="6.4" fill="#0000ee"/><rect x="158.3" y="177.4" width="6.4" height="6.4" fill="#0000ee"/><rect x="180.0" y="186.8" width="6.4" height="6.4" fill="#0000ee"/><rect x="201.6" y="208.1" width="6.4" height="6.4" fill="#0000ee"/><rect x="223.3" y="221.8" width="6.4" height="6.4" fill="#0000ee"/><rect x="245.0" y="241.6" width="6.4" height="6.4" fill="#0000ee"/><rect x="266.7" y="265.6" width="6.4" height="6.4" fill="#0000ee"/><rect x="288.3" y="291.2" width="6.4" height="6.4" fill="#0000ee"/><rect x="310.0" y="329.3" width="6.4" height="6.4" fill="#0000ee"/><rect x="331.7" y="343.7" width="6.4" height="6.4" fill="#0000ee"/><rect x="353.4" y="385.6" width="6.4" height="6.4" fill="#0000ee"/><rect x="375.0" y="399.9" width="6.4" height="6.4" fill="#0000ee"/></g>
<g clip-path="url(#cr)" stroke="#000" stroke-width="1" fill="none"><path d="M528.4 245.0H535.4M528.4 243.6V246.4M535.4 243.6V246.4"/><path d="M531.9 239.5V250.5M530.5 239.5H533.3M530.5 250.5H533.3"/><path d="M548.1 225.6H558.1M548.1 224.2V227.0M558.1 224.2V227.0"/><path d="M553.1 221.1V230.1M551.7 221.1H554.5M551.7 230.1H554.5"/><path d="M569.1 182.1H579.7M569.1 180.7V183.5M579.7 180.7V183.5"/><path d="M574.4 180.1V184.1M573.0 180.1H575.8M573.0 184.1H575.8"/><path d="M589.1 192.5H602.1M589.1 191.1V193.9M602.1 191.1V193.9"/><path d="M595.6 190.5V194.5M594.2 190.5H597.0M594.2 194.5H597.0"/><path d="M608.9 194.4H624.9M608.9 193.0V195.8M624.9 193.0V195.8"/><path d="M616.9 191.9V196.9M615.5 191.9H618.3M615.5 196.9H618.3"/><path d="M625.6 215.0H650.6M625.6 213.6V216.4M650.6 213.6V216.4"/><path d="M638.1 211.5V218.5M636.7 211.5H639.5M636.7 218.5H639.5"/><path d="M644.1 211.3H674.7M644.1 209.9V212.7M674.7 209.9V212.7"/><path d="M659.4 207.3V215.3M658.0 207.3H660.8M658.0 215.3H660.8"/><path d="M663.1 232.3H698.1M663.1 230.9V233.7M698.1 230.9V233.7"/><path d="M680.6 227.8V236.8M679.2 227.8H682.0M679.2 236.8H682.0"/><path d="M684.1 245.0H719.7M684.1 243.6V246.4M719.7 243.6V246.4"/><path d="M701.9 239.5V250.5M700.5 239.5H703.3M700.5 250.5H703.3"/><path d="M704.1 265.4H742.1M704.1 264.0V266.8M742.1 264.0V266.8"/><path d="M723.1 257.9V272.9M721.7 257.9H724.5M721.7 272.9H724.5"/><path d="M726.9 261.8H761.9M726.9 260.4V263.2M761.9 260.4V263.2"/><path d="M744.4 255.0V268.6M743.0 255.0H745.8M743.0 268.6H745.8"/><path d="M752.6 320.6H778.6M752.6 319.2V322.0M778.6 319.2V322.0"/><path d="M765.6 308.1V339.4M764.2 308.1H767.0M764.2 339.4H767.0"/><path d="M771.5 315.9H802.3M771.5 314.5V317.3M802.3 314.5V317.3"/><path d="M786.9 304.0V332.5M785.5 304.0H788.3M785.5 332.5H788.3"/><path d="M799.1 342.4H817.1M799.1 341.0V343.8M817.1 341.0V343.8"/><path d="M808.1 326.5V368.8M806.7 326.5H809.5M806.7 368.8H809.5"/><path d="M817.2 342.4H841.6M817.2 341.0V343.8M841.6 341.0V343.8"/><path d="M829.4 326.5V368.8M828.0 326.5H830.8M828.0 368.8H830.8"/><path d="M833.6 395.4H867.6M833.6 394.0V396.8M867.6 394.0V396.8"/><path d="M850.6 368.8V460.0M849.2 368.8H852.0M849.2 460.0H852.0"/></g><g clip-path="url(#cr)"><circle cx="531.9" cy="245.0" r="2.9" fill="#000"/><circle cx="553.1" cy="225.6" r="2.9" fill="#000"/><circle cx="574.4" cy="182.1" r="2.9" fill="#000"/><circle cx="595.6" cy="192.5" r="2.9" fill="#000"/><circle cx="616.9" cy="194.4" r="2.9" fill="#000"/><circle cx="638.1" cy="215.0" r="2.9" fill="#000"/><circle cx="659.4" cy="211.3" r="2.9" fill="#000"/><circle cx="680.6" cy="232.3" r="2.9" fill="#000"/><circle cx="701.9" cy="245.0" r="2.9" fill="#000"/><circle cx="723.1" cy="265.4" r="2.9" fill="#000"/><circle cx="744.4" cy="261.8" r="2.9" fill="#000"/><circle cx="765.6" cy="320.6" r="2.9" fill="#000"/><circle cx="786.9" cy="315.9" r="2.9" fill="#000"/><circle cx="808.1" cy="342.4" r="2.9" fill="#000"/><circle cx="829.4" cy="342.4" r="2.9" fill="#000"/><circle cx="850.6" cy="395.4" r="2.9" fill="#000"/></g>
<g clip-path="url(#cr)" stroke="#0000ee" stroke-width="1" fill="none"><path d="M733.5 282.0V289.0M732.1 282.0H734.9M732.1 289.0H734.9"/><path d="M755.5 293.8V301.8M754.1 293.8H756.9M754.1 301.8H756.9"/><path d="M776.5 313.8V325.8M775.1 313.8H777.9M775.1 325.8H777.9"/><path d="M797.5 333.5V348.1M796.1 333.5H798.9M796.1 348.1H798.9"/><path d="M818.5 359.4V381.3M817.1 359.4H819.9M817.1 381.3H819.9"/><path d="M840.5 381.3V412.4M839.1 381.3H841.9M839.1 412.4H841.9"/><path d="M861.5 400.0V442.3M860.1 400.0H862.9M860.1 442.3H862.9"/></g><g clip-path="url(#cr)"><rect x="539.3" y="220.3" width="6.4" height="6.4" fill="#0000ee"/><rect x="560.5" y="218.7" width="6.4" height="6.4" fill="#0000ee"/><rect x="581.8" y="190.3" width="6.4" height="6.4" fill="#0000ee"/><rect x="603.0" y="196.8" width="6.4" height="6.4" fill="#0000ee"/><rect x="624.3" y="214.3" width="6.4" height="6.4" fill="#0000ee"/><rect x="645.5" y="219.3" width="6.4" height="6.4" fill="#0000ee"/><rect x="666.8" y="224.9" width="6.4" height="6.4" fill="#0000ee"/><rect x="688.0" y="243.1" width="6.4" height="6.4" fill="#0000ee"/><rect x="709.3" y="264.6" width="6.4" height="6.4" fill="#0000ee"/><rect x="730.5" y="282.3" width="6.4" height="6.4" fill="#0000ee"/><rect x="751.8" y="294.6" width="6.4" height="6.4" fill="#0000ee"/><rect x="773.0" y="316.6" width="6.4" height="6.4" fill="#0000ee"/><rect x="794.3" y="337.4" width="6.4" height="6.4" fill="#0000ee"/><rect x="815.5" y="365.7" width="6.4" height="6.4" fill="#0000ee"/><rect x="836.8" y="391.0" width="6.4" height="6.4" fill="#0000ee"/><rect x="858.0" y="412.4" width="6.4" height="6.4" fill="#0000ee"/></g>
<line x1="109" y1="50.5" x2="131" y2="50.5" stroke="#ff2a1a" stroke-width="1.1"/>
<line x1="109" y1="69.6" x2="131" y2="69.6" stroke="#1818ff" stroke-width="1.2" stroke-dasharray="8,5.5"/>
<line x1="534.5" y1="50.5" x2="555.5" y2="50.5" stroke="#ff2a1a" stroke-width="1.1"/>
<line x1="534.5" y1="69.6" x2="555.5" y2="69.6" stroke="#1818ff" stroke-width="1.2" stroke-dasharray="8,5.5"/>
<circle cx="326" cy="50.5" r="2.85" fill="none" stroke="#000" stroke-width="0.75"/>
<rect x="322.9" y="67.6" width="6.2" height="6.2" fill="none" stroke="#3a3aff" stroke-width="0.8"/>
<circle cx="326" cy="99.5" r="3" fill="#000"/>
<rect x="322.8" y="118.6" width="6.4" height="6.4" fill="#0000ee"/>
<circle cx="746.5" cy="50.5" r="3" fill="#000"/>
<rect x="743.3" y="67.6" width="6.4" height="6.4" fill="#0000ee"/>
<text x="140.10" y="56.40" font-size="15.7" textLength="48.20" lengthAdjust="spacingAndGlyphs" fill="#141414">Guo10</text>
<text x="198.60" y="56.40" font-size="15.7" textLength="10.50" lengthAdjust="spacingAndGlyphs" fill="#141414">+</text>
<text x="219.70" y="56.40" font-size="15.7" textLength="30.20" lengthAdjust="spacingAndGlyphs" fill="#141414">M05</text>
<text x="140.10" y="75.30" font-size="15.7" textLength="48.20" lengthAdjust="spacingAndGlyphs" fill="#141414">Guo10</text>
<text x="198.60" y="75.30" font-size="15.7" textLength="10.50" lengthAdjust="spacingAndGlyphs" fill="#141414">+</text>
<text x="219.70" y="75.30" font-size="15.7" textLength="39.60" lengthAdjust="spacingAndGlyphs" fill="#141414">BC03</text>
<text x="564.30" y="56.40" font-size="15.7" textLength="47.80" lengthAdjust="spacingAndGlyphs" fill="#141414">Guo10</text>
<text x="622.90" y="56.40" font-size="15.7" textLength="10.60" lengthAdjust="spacingAndGlyphs" fill="#141414">+</text>
<text x="643.80" y="56.40" font-size="15.7" textLength="30.50" lengthAdjust="spacingAndGlyphs" fill="#141414">M05</text>
<text x="564.30" y="75.30" font-size="15.7" textLength="47.80" lengthAdjust="spacingAndGlyphs" fill="#141414">Guo10</text>
<text x="622.90" y="75.30" font-size="15.7" textLength="10.60" lengthAdjust="spacingAndGlyphs" fill="#141414">+</text>
<text x="643.80" y="75.30" font-size="15.7" textLength="40.00" lengthAdjust="spacingAndGlyphs" fill="#141414">BC03</text>
<text x="339.60" y="55.90" font-size="15.7" textLength="85.90" lengthAdjust="spacingAndGlyphs" fill="#141414">FIREWORKS</text>
<text x="435.80" y="55.90" font-size="15.7" textLength="17.20" lengthAdjust="spacingAndGlyphs" fill="#141414">(K</text>
<text x="453.20" y="60.10" font-size="13.5" textLength="6.00" lengthAdjust="spacingAndGlyphs" fill="#141414">s</text>
<text x="460.80" y="55.90" font-size="15.7" textLength="51.20" lengthAdjust="spacingAndGlyphs" fill="#141414">&lt;23.3)</text>
<text x="339.60" y="104.60" font-size="15.7" textLength="85.90" lengthAdjust="spacingAndGlyphs" fill="#141414">FIREWORKS</text>
<text x="435.80" y="104.60" font-size="15.7" textLength="17.20" lengthAdjust="spacingAndGlyphs" fill="#141414">(K</text>
<text x="453.20" y="108.80" font-size="13.5" textLength="6.00" lengthAdjust="spacingAndGlyphs" fill="#141414">s</text>
<text x="460.80" y="104.60" font-size="15.7" textLength="51.20" lengthAdjust="spacingAndGlyphs" fill="#141414">&lt;21.8)</text>
<text x="339.60" y="75.60" font-size="15.7" textLength="66.60" lengthAdjust="spacingAndGlyphs" fill="#141414">NEWFIRM</text>
<text x="416.80" y="75.60" font-size="15.7" textLength="17.00" lengthAdjust="spacingAndGlyphs" fill="#141414">(K</text>
<text x="434.00" y="79.80" font-size="13.5" textLength="6.00" lengthAdjust="spacingAndGlyphs" fill="#141414">s</text>
<text x="441.30" y="75.60" font-size="15.7" textLength="51.90" lengthAdjust="spacingAndGlyphs" fill="#141414">&lt;23.3)</text>
<text x="339.60" y="126.20" font-size="15.7" textLength="66.60" lengthAdjust="spacingAndGlyphs" fill="#141414">NEWFIRM</text>
<text x="416.80" y="126.20" font-size="15.7" textLength="17.00" lengthAdjust="spacingAndGlyphs" fill="#141414">(K</text>
<text x="434.00" y="130.40" font-size="13.5" textLength="6.00" lengthAdjust="spacingAndGlyphs" fill="#141414">s</text>
<text x="441.30" y="126.20" font-size="15.7" textLength="51.90" lengthAdjust="spacingAndGlyphs" fill="#141414">&lt;21.8)</text>
<text x="759.90" y="56.10" font-size="15.7" textLength="86.40" lengthAdjust="spacingAndGlyphs" fill="#141414">FIREWORKS</text>
<text x="856.30" y="56.10" font-size="15.7" textLength="9.20" lengthAdjust="spacingAndGlyphs" fill="#141414">(i</text>
<text x="866.90" y="60.50" font-size="11.5" textLength="6.00" lengthAdjust="spacingAndGlyphs" fill="#141414">3</text>
<text x="874.40" y="56.10" font-size="15.7" textLength="52.30" lengthAdjust="spacingAndGlyphs" fill="#141414">&lt;21.8)</text>
<text x="759.90" y="75.40" font-size="15.7" textLength="67.30" lengthAdjust="spacingAndGlyphs" fill="#141414">NEWFIRM</text>
<text x="837.20" y="75.40" font-size="15.7" textLength="9.50" lengthAdjust="spacingAndGlyphs" fill="#141414">(i</text>
<text x="847.80" y="79.80" font-size="11.5" textLength="5.80" lengthAdjust="spacingAndGlyphs" fill="#141414">3</text>
<text x="855.50" y="75.40" font-size="15.7" textLength="51.70" lengthAdjust="spacingAndGlyphs" fill="#141414">&lt;21.8)</text>
<text x="775.90" y="99.60" font-size="15.7" textLength="9.80" lengthAdjust="spacingAndGlyphs" fill="#141414">+</text>
<text x="794.00" y="99.60" font-size="15.7" textLength="18.20" lengthAdjust="spacingAndGlyphs" fill="#141414">(K</text>
<text x="812.50" y="103.80" font-size="13.5" textLength="5.80" lengthAdjust="spacingAndGlyphs" fill="#141414">s</text>
<text x="818.60" y="99.60" font-size="15.7" textLength="52.10" lengthAdjust="spacingAndGlyphs" fill="#141414">&lt;23.0)</text>
<text x="37.60" y="98.05" font-size="15.7" textLength="52.50" lengthAdjust="spacingAndGlyphs" fill="#141414">100.00</text>
<text x="46.90" y="186.15" font-size="15.7" textLength="43.20" lengthAdjust="spacingAndGlyphs" fill="#141414">10.00</text>
<text x="56.20" y="274.25" font-size="15.7" textLength="33.90" lengthAdjust="spacingAndGlyphs" fill="#141414">1.00</text>
<text x="56.20" y="362.35" font-size="15.7" textLength="33.90" lengthAdjust="spacingAndGlyphs" fill="#141414">0.10</text>
<text x="56.20" y="444.35" font-size="15.7" textLength="33.90" lengthAdjust="spacingAndGlyphs" fill="#141414">0.01</text>
<text x="96.25" y="467.20" font-size="15.7" text-anchor="middle" fill="#141414">0</text>
<text x="182.77" y="467.20" font-size="15.7" text-anchor="middle" fill="#141414">1</text>
<text x="269.29" y="467.20" font-size="15.7" text-anchor="middle" fill="#141414">2</text>
<text x="355.81" y="467.20" font-size="15.7" text-anchor="middle" fill="#141414">3</text>
<text x="442.33" y="467.20" font-size="15.7" text-anchor="middle" fill="#141414">4</text>
<text x="521.15" y="467.20" font-size="15.7" text-anchor="middle" fill="#141414">0</text>
<text x="606.15" y="467.20" font-size="15.7" text-anchor="middle" fill="#141414">1</text>
<text x="691.15" y="467.20" font-size="15.7" text-anchor="middle" fill="#141414">2</text>
<text x="776.15" y="467.20" font-size="15.7" text-anchor="middle" fill="#141414">3</text>
<text x="861.15" y="467.20" font-size="15.7" text-anchor="middle" fill="#141414">4</text>
<text x="946.15" y="467.20" font-size="15.7" text-anchor="middle" fill="#141414">5</text>
<text x="308.50" y="487.40" font-size="15.7" text-anchor="middle" fill="#141414">z</text>
<text x="733.00" y="487.40" font-size="15.7" text-anchor="middle" fill="#141414">z</text>
<g transform="translate(22.6,237) rotate(-90)"><text x="-59.5" y="0" font-size="15.7" textLength="110" lengthAdjust="spacingAndGlyphs" fill="#141414">dN/dz/arcmin</text><text x="52" y="-8.5" font-size="10.1" textLength="7.5" lengthAdjust="spacingAndGlyphs" fill="#141414">2</text></g>
</svg></body></html>
